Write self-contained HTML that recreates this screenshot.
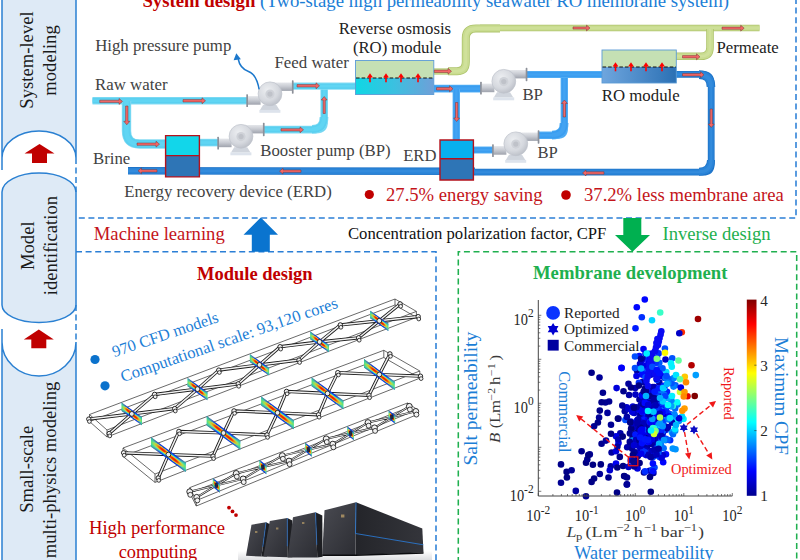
<!DOCTYPE html>
<html><head><meta charset="utf-8"><title>figure</title>
<style>
html,body{margin:0;padding:0;background:#fff;}
body{width:800px;height:560px;overflow:hidden;}
svg{display:block;font-family:"Liberation Serif", "DejaVu Serif", serif;}
</style></head><body>
<svg width="800" height="560" viewBox="0 0 800 560">
<rect width="800" height="560" fill="#fff"/>
<g stroke-width="1.5" stroke-linecap="butt">
<path d="M2,-3 L2,158 A37,27 0 0 1 76,158 L76,-3 Z" fill="#deeaf6" stroke="none"/>
<path d="M2,-3 L2,170 M76,-3 L76,158 M2,158 A37,27 0 0 1 76,158" fill="none" stroke="#2a80d2"/>
<path d="M2,192 A37,19 0 0 1 76,192 L76,305 A37,17.5 0 0 1 2,305 Z" fill="#deeaf6" stroke="#2a80d2"/>
<path d="M2,342 A37,34 0 0 0 76,342 L76,563 L2,563 Z" fill="#deeaf6" stroke="none"/>
<path d="M2,329 L2,563 M76,342 L76,563 M2,342 A37,34 0 0 0 76,342" fill="none" stroke="#2a80d2"/>
<path d="M76,158 L76,192 M76,305 L76,342" fill="none" stroke="#2a80d2" stroke-dasharray="6,3.5"/>
</g>
<polygon points="39.5,144 54.5,153.5 47.0,153.5 47.0,163 32.0,163 32.0,153.5 24.5,153.5" fill="#c00000"/>
<polygon points="38.8,329.5 53.8,339.5 46.3,339.5 46.3,348.3 31.299999999999997,348.3 31.299999999999997,339.5 23.799999999999997,339.5" fill="#c00000"/>
<text transform="translate(32.5,60) rotate(-90)" font-size="18.65" fill="#1a1a1a" text-anchor="middle">System-level</text>
<text transform="translate(56,60.5) rotate(-90)" font-size="18.65" fill="#1a1a1a" text-anchor="middle">modeling</text>
<text transform="translate(34,245.7) rotate(-90)" font-size="18.65" fill="#1a1a1a" text-anchor="middle">Model</text>
<text transform="translate(56.7,245.6) rotate(-90)" font-size="18.65" fill="#1a1a1a" text-anchor="middle">identification</text>
<text transform="translate(33,469.3) rotate(-90)" font-size="18.65" fill="#1a1a1a" text-anchor="middle">Small-scale</text>
<text transform="translate(56,470) rotate(-90)" font-size="18.65" fill="#1a1a1a" text-anchor="middle">multi-physics modeling</text>
<g fill="none" stroke-width="1.55" stroke-dasharray="6,3.6">
<path d="M796,-2 L796,218 L76,218" stroke="#2b7fd6"/>
<path d="M76,251.8 L436,251.8 L436,563" stroke="#2b7fd6"/>
<path d="M458.3,563 L458.3,251.8 L796.7,251.8 L796.7,563" stroke="#1fb04f"/>
</g>
<polygon points="260.8,217.6 278,234.7 269.8,234.7 269.8,251.8 251.8,251.8 251.8,234.7 243.5,234.7" fill="#0a74cf"/>
<polygon points="623.3,218 641.3,218 641.3,235 650,235 632.5,251.8 615,235 623.3,235" fill="#00b050"/>
<text x="93.8" y="240" font-size="18.65" fill="#c4141a" font-weight="normal" text-anchor="start" >Machine learning</text>
<text x="348" y="239.3" font-size="16.66" fill="#111" font-weight="normal" text-anchor="start" >Concentration polarization factor, CPF</text>
<text x="662.5" y="239.5" font-size="18.65" fill="#1fb04f" font-weight="normal" text-anchor="start" >Inverse design</text>
<text x="197" y="279.5" font-size="18.5" fill="#c00000" font-weight="bold" text-anchor="start" >Module design</text>
<text x="533" y="278.8" font-size="18.68" fill="#1fb04f" font-weight="bold" text-anchor="start" >Membrane development</text>
<defs>
<linearGradient id="gOut" x1="0" y1="0" x2="0" y2="1"><stop offset="0" stop-color="#e4e6ea"/><stop offset="0.45" stop-color="#c9ccd3"/><stop offset="1" stop-color="#9fa3ad"/></linearGradient>
<radialGradient id="gVol" cx="0.4" cy="0.35" r="0.75"><stop offset="0" stop-color="#eceef1"/><stop offset="0.6" stop-color="#d5d8de"/><stop offset="1" stop-color="#b4b8c1"/></radialGradient>
<linearGradient id="gRO1" x1="0" y1="0" x2="1" y2="0"><stop offset="0" stop-color="#0fd7e4"/><stop offset="0.5" stop-color="#3cc0e0"/><stop offset="1" stop-color="#6f9fd8"/></linearGradient>
<linearGradient id="gRO2" x1="0" y1="0" x2="1" y2="0"><stop offset="0" stop-color="#6fa6de"/><stop offset="1" stop-color="#2b70b4"/></linearGradient>
</defs>
<path d="M676,74.4 L702,74.4 Q711.2,74.4 711.2,84 L711.2,164 Q711.2,172.2 703,172.2 L470,172.2" fill="none" stroke="#1f74c8" stroke-width="6.8" stroke-linejoin="round"/>
<path d="M676,74.4 L702,74.4 Q711.2,74.4 711.2,84 L711.2,164 Q711.2,172.2 703,172.2 L470,172.2" fill="none" stroke="#2a84d8" stroke-width="5.199999999999999" stroke-linejoin="round"/>
<path d="M676,74.4 L702,74.4 Q711.2,74.4 711.2,84 L711.2,164 Q711.2,172.2 703,172.2 L470,172.2" fill="none" stroke="#3a92e0" stroke-width="1.7999999999999998" stroke-linejoin="round" opacity="0.55"/>
<path d="M699,74.6 Q711,74.6 711,87" fill="none" stroke="#1f74c8" stroke-width="8.6" stroke-linejoin="round"/>
<path d="M699,74.6 Q711,74.6 711,87" fill="none" stroke="#2a84d8" stroke-width="7.0" stroke-linejoin="round"/>
<path d="M699,74.6 Q711,74.6 711,87" fill="none" stroke="#3a92e0" stroke-width="3.5999999999999996" stroke-linejoin="round" opacity="0.55"/>
<path d="M711,160 Q711,171.8 699,171.8" fill="none" stroke="#1f74c8" stroke-width="8.0" stroke-linejoin="round"/>
<path d="M711,160 Q711,171.8 699,171.8" fill="none" stroke="#2a84d8" stroke-width="6.4" stroke-linejoin="round"/>
<path d="M711,160 Q711,171.8 699,171.8" fill="none" stroke="#3a92e0" stroke-width="3.0" stroke-linejoin="round" opacity="0.55"/>
<path d="M475,171.3 L128,170.8" fill="none" stroke="#1f74c8" stroke-width="7.4" stroke-linejoin="round"/>
<path d="M475,171.3 L128,170.8" fill="none" stroke="#2a84d8" stroke-width="5.800000000000001" stroke-linejoin="round"/>
<path d="M475,171.3 L128,170.8" fill="none" stroke="#3a92e0" stroke-width="2.4000000000000004" stroke-linejoin="round" opacity="0.55"/>
<path d="M434,88.6 L481,88.6" fill="none" stroke="#58b2f6" stroke-width="7.8" stroke-linejoin="round"/>
<path d="M434,88.6 L481,88.6" fill="none" stroke="#3a9df0" stroke-width="6.199999999999999" stroke-linejoin="round"/>
<path d="M434,88.6 L481,88.6" fill="none" stroke="#48a8f4" stroke-width="2.8" stroke-linejoin="round" opacity="0.55"/>
<path d="M456.3,89 L456.3,141" fill="none" stroke="#58b2f6" stroke-width="7.4" stroke-linejoin="round"/>
<path d="M456.3,89 L456.3,141" fill="none" stroke="#3a9df0" stroke-width="5.800000000000001" stroke-linejoin="round"/>
<path d="M456.3,89 L456.3,141" fill="none" stroke="#48a8f4" stroke-width="2.4000000000000004" stroke-linejoin="round" opacity="0.55"/>
<path d="M473,150 L493,150" fill="none" stroke="#58b2f6" stroke-width="7" stroke-linejoin="round"/>
<path d="M473,150 L493,150" fill="none" stroke="#3a9df0" stroke-width="5.4" stroke-linejoin="round"/>
<path d="M473,150 L493,150" fill="none" stroke="#48a8f4" stroke-width="2" stroke-linejoin="round" opacity="0.55"/>
<path d="M538,135.3 L557,135.3 Q564.3,135.3 564.3,128 L564.3,76" fill="none" stroke="#58b2f6" stroke-width="7.4" stroke-linejoin="round"/>
<path d="M538,135.3 L557,135.3 Q564.3,135.3 564.3,128 L564.3,76" fill="none" stroke="#3a9df0" stroke-width="5.800000000000001" stroke-linejoin="round"/>
<path d="M538,135.3 L557,135.3 Q564.3,135.3 564.3,128 L564.3,76" fill="none" stroke="#48a8f4" stroke-width="2.4000000000000004" stroke-linejoin="round" opacity="0.55"/>
<path d="M552,135.1 Q564.1,135.1 564.1,123" fill="none" stroke="#58b2f6" stroke-width="8.8" stroke-linejoin="round"/>
<path d="M552,135.1 Q564.1,135.1 564.1,123" fill="none" stroke="#3a9df0" stroke-width="7.200000000000001" stroke-linejoin="round"/>
<path d="M552,135.1 Q564.1,135.1 564.1,123" fill="none" stroke="#48a8f4" stroke-width="3.8000000000000007" stroke-linejoin="round" opacity="0.55"/>
<path d="M527,74.5 L603,74.5" fill="none" stroke="#58b2f6" stroke-width="7" stroke-linejoin="round"/>
<path d="M527,74.5 L603,74.5" fill="none" stroke="#3a9df0" stroke-width="5.4" stroke-linejoin="round"/>
<path d="M527,74.5 L603,74.5" fill="none" stroke="#48a8f4" stroke-width="2" stroke-linejoin="round" opacity="0.55"/>
<path d="M92.5,100.7 L247,100.7" fill="none" stroke="#86dcf4" stroke-width="7.4" stroke-linejoin="round"/>
<path d="M92.5,100.7 L247,100.7" fill="none" stroke="#5ad0f0" stroke-width="5.800000000000001" stroke-linejoin="round"/>
<path d="M92.5,100.7 L247,100.7" fill="none" stroke="#66d8f6" stroke-width="2.4000000000000004" stroke-linejoin="round" opacity="0.55"/>
<path d="M126.5,101 L126.5,131 Q126.5,144 139.5,144 L166,144" fill="none" stroke="#86dcf4" stroke-width="9.4" stroke-linejoin="round"/>
<path d="M126.5,101 L126.5,131 Q126.5,144 139.5,144 L166,144" fill="none" stroke="#5ad0f0" stroke-width="7.800000000000001" stroke-linejoin="round"/>
<path d="M126.5,101 L126.5,131 Q126.5,144 139.5,144 L166,144" fill="none" stroke="#66d8f6" stroke-width="4.4" stroke-linejoin="round" opacity="0.55"/>
<path d="M199,142.6 L220,142.6" fill="none" stroke="#86dcf4" stroke-width="7.6" stroke-linejoin="round"/>
<path d="M199,142.6 L220,142.6" fill="none" stroke="#5ad0f0" stroke-width="6.0" stroke-linejoin="round"/>
<path d="M199,142.6 L220,142.6" fill="none" stroke="#66d8f6" stroke-width="2.5999999999999996" stroke-linejoin="round" opacity="0.55"/>
<path d="M264,129.6 L316,129.6 Q324.2,129.6 324.2,121.5 L324.2,87" fill="none" stroke="#86dcf4" stroke-width="7.6" stroke-linejoin="round"/>
<path d="M264,129.6 L316,129.6 Q324.2,129.6 324.2,121.5 L324.2,87" fill="none" stroke="#5ad0f0" stroke-width="6.0" stroke-linejoin="round"/>
<path d="M264,129.6 L316,129.6 Q324.2,129.6 324.2,121.5 L324.2,87" fill="none" stroke="#66d8f6" stroke-width="2.5999999999999996" stroke-linejoin="round" opacity="0.55"/>
<path d="M312,129.4 Q324,129.4 324,117" fill="none" stroke="#86dcf4" stroke-width="8.8" stroke-linejoin="round"/>
<path d="M312,129.4 Q324,129.4 324,117" fill="none" stroke="#5ad0f0" stroke-width="7.200000000000001" stroke-linejoin="round"/>
<path d="M312,129.4 Q324,129.4 324,117" fill="none" stroke="#66d8f6" stroke-width="3.8000000000000007" stroke-linejoin="round" opacity="0.55"/>
<path d="M293,86.2 L356,86.2" fill="none" stroke="#86dcf4" stroke-width="7.2" stroke-linejoin="round"/>
<path d="M293,86.2 L356,86.2" fill="none" stroke="#5ad0f0" stroke-width="5.6" stroke-linejoin="round"/>
<path d="M293,86.2 L356,86.2" fill="none" stroke="#66d8f6" stroke-width="2.2" stroke-linejoin="round" opacity="0.55"/>
<path d="M480,28 L759.5,28" fill="none" stroke="#aec46c" stroke-width="6.4" stroke-linejoin="round"/>
<path d="M480,28 L759.5,28" fill="none" stroke="#c9dc90" stroke-width="4.800000000000001" stroke-linejoin="round"/>
<path d="M480,28 L759.5,28" fill="none" stroke="#d6e6a4" stroke-width="1.4000000000000004" stroke-linejoin="round" opacity="0.55"/>
<path d="M434,71.5 L452,71.5" fill="none" stroke="#aec46c" stroke-width="6.2" stroke-linejoin="round"/>
<path d="M434,71.5 L452,71.5" fill="none" stroke="#c9dc90" stroke-width="4.6" stroke-linejoin="round"/>
<path d="M434,71.5 L452,71.5" fill="none" stroke="#d6e6a4" stroke-width="1.2000000000000002" stroke-linejoin="round" opacity="0.55"/>
<path d="M448,71.2 L457,71.2 Q465.8,71.2 465.8,62 L465.8,38 Q465.8,28.4 476,28.4 L500,28.4" fill="none" stroke="#aec46c" stroke-width="8.0" stroke-linejoin="round"/>
<path d="M448,71.2 L457,71.2 Q465.8,71.2 465.8,62 L465.8,38 Q465.8,28.4 476,28.4 L500,28.4" fill="none" stroke="#c9dc90" stroke-width="6.4" stroke-linejoin="round"/>
<path d="M448,71.2 L457,71.2 Q465.8,71.2 465.8,62 L465.8,38 Q465.8,28.4 476,28.4 L500,28.4" fill="none" stroke="#d6e6a4" stroke-width="3.0" stroke-linejoin="round" opacity="0.55"/>
<path d="M676,56.3 L701,56.3 Q710,56.3 710,47.5 L710,29" fill="none" stroke="#aec46c" stroke-width="7.6" stroke-linejoin="round"/>
<path d="M676,56.3 L701,56.3 Q710,56.3 710,47.5 L710,29" fill="none" stroke="#c9dc90" stroke-width="6.0" stroke-linejoin="round"/>
<path d="M676,56.3 L701,56.3 Q710,56.3 710,47.5 L710,29" fill="none" stroke="#d6e6a4" stroke-width="2.5999999999999996" stroke-linejoin="round" opacity="0.55"/>
<rect x="355.5" y="60.5" width="78.3" height="17.5" fill="#c5e0b4"/>
<rect x="355.5" y="78" width="78.3" height="16.5" fill="url(#gRO1)"/>
<rect x="355.5" y="60.5" width="78.3" height="34" fill="none" stroke="#5b9bd5" stroke-width="0.9"/>
<path d="M356,78 L433.5,78" stroke="#111" stroke-width="1.1" stroke-dasharray="3.6,2"/>
<rect x="602" y="50" width="74.3" height="17" fill="#c5e0b4"/>
<rect x="602" y="67" width="74.3" height="16" fill="url(#gRO2)"/>
<rect x="602" y="50" width="74.3" height="33" fill="none" stroke="#5b9bd5" stroke-width="0.9"/>
<path d="M602.5,67 L676,67" stroke="#111" stroke-width="1.1" stroke-dasharray="3.6,2"/>
<path d="M370,82.3 L370,75.7" stroke="#ff0000" stroke-width="1.6"/><polygon points="370,73.2 372.9,77.4 367.1,77.4" fill="#ff0000"/>
<path d="M386,82.3 L386,75.7" stroke="#ff0000" stroke-width="1.6"/><polygon points="386,73.2 388.9,77.4 383.1,77.4" fill="#ff0000"/>
<path d="M401,82.3 L401,75.7" stroke="#ff0000" stroke-width="1.6"/><polygon points="401,73.2 403.9,77.4 398.1,77.4" fill="#ff0000"/>
<path d="M418,82.3 L418,75.7" stroke="#ff0000" stroke-width="1.6"/><polygon points="418,73.2 420.9,77.4 415.1,77.4" fill="#ff0000"/>
<path d="M615.5,71.3 L615.5,64.7" stroke="#ff0000" stroke-width="1.6"/><polygon points="615.5,62.2 618.4,66.4 612.6,66.4" fill="#ff0000"/>
<path d="M631,71.3 L631,64.7" stroke="#ff0000" stroke-width="1.6"/><polygon points="631,62.2 633.9,66.4 628.1,66.4" fill="#ff0000"/>
<path d="M646,71.3 L646,64.7" stroke="#ff0000" stroke-width="1.6"/><polygon points="646,62.2 648.9,66.4 643.1,66.4" fill="#ff0000"/>
<path d="M662,71.3 L662,64.7" stroke="#ff0000" stroke-width="1.6"/><polygon points="662,62.2 664.9,66.4 659.1,66.4" fill="#ff0000"/>
<rect x="165.6" y="135.6" width="33.8" height="20" fill="#12d6ea"/><rect x="165.6" y="155.6" width="33.8" height="21.3" fill="#2e75b6"/>
<path d="M165.6,135.6 H199.4 V176.9 H165.6 Z M165.6,155.6 H199.4" fill="none" stroke="#b4121c" stroke-width="1.4"/>
<rect x="440" y="140" width="33.4" height="18.8" fill="#08b0ee"/><rect x="440" y="158.8" width="33.4" height="21.2" fill="#2e75b6"/>
<path d="M440,140 H473.4 V180 H440 Z M440,158.8 H473.4" fill="none" stroke="#b4121c" stroke-width="1.4"/>
<g>
<polygon points="263.2,104.7 276.2,104.7 279.5,110.10000000000001 260,110.10000000000001" fill="#d0d5dd"/>
<rect x="259.4" y="109.9" width="21" height="2.9" fill="#dde3ec"/>
<rect x="270" y="82.49999999999999" width="22.3" height="8.4" fill="url(#gOut)"/>
<rect x="291.9" y="80.3" width="1.7" height="13.4" rx="0.6" fill="#8c9099"/>
<rect x="247.60000000000002" y="96.1" width="13" height="8.6" fill="url(#gOut)"/>
<rect x="246.3" y="94.2" width="1.7" height="12.8" rx="0.6" fill="#8c9099"/>
<circle cx="270" cy="93.8" r="11.9" fill="url(#gVol)" stroke="#bfc3cb" stroke-width="0.7"/>
<circle cx="270" cy="94.1" r="4.6" fill="#cfd2d8"/>
<circle cx="270" cy="94.1" r="2.6" fill="#bfc2c9"/>
</g>
<g>
<polygon points="234.2,147.20000000000002 247.2,147.20000000000002 250.5,152.60000000000002 231,152.60000000000002" fill="#d0d5dd"/>
<rect x="230.4" y="152.4" width="21" height="2.9" fill="#dde3ec"/>
<rect x="241" y="125.0" width="22.3" height="8.4" fill="url(#gOut)"/>
<rect x="262.9" y="122.80000000000001" width="1.7" height="13.4" rx="0.6" fill="#8c9099"/>
<rect x="218.6" y="138.60000000000002" width="13" height="8.6" fill="url(#gOut)"/>
<rect x="217.29999999999998" y="136.70000000000002" width="1.7" height="12.8" rx="0.6" fill="#8c9099"/>
<circle cx="241" cy="136.3" r="11.9" fill="url(#gVol)" stroke="#bfc3cb" stroke-width="0.7"/>
<circle cx="241" cy="136.60000000000002" r="4.6" fill="#cfd2d8"/>
<circle cx="241" cy="136.60000000000002" r="2.6" fill="#bfc2c9"/>
</g>
<g>
<polygon points="497.0,92.2 510.0,92.2 513.3,97.60000000000001 493.8,97.60000000000001" fill="#d0d5dd"/>
<rect x="493.2" y="97.4" width="21" height="2.9" fill="#dde3ec"/>
<rect x="503.8" y="69.99999999999999" width="22.3" height="8.4" fill="url(#gOut)"/>
<rect x="525.7" y="67.8" width="1.7" height="13.4" rx="0.6" fill="#8c9099"/>
<rect x="481.40000000000003" y="83.6" width="13" height="8.6" fill="url(#gOut)"/>
<rect x="480.1" y="81.7" width="1.7" height="12.8" rx="0.6" fill="#8c9099"/>
<circle cx="503.8" cy="81.3" r="11.9" fill="url(#gVol)" stroke="#bfc3cb" stroke-width="0.7"/>
<circle cx="503.8" cy="81.6" r="4.6" fill="#cfd2d8"/>
<circle cx="503.8" cy="81.6" r="2.6" fill="#bfc2c9"/>
</g>
<g>
<polygon points="508.99999999999994,154.70000000000002 522.0,154.70000000000002 525.3,160.10000000000002 505.79999999999995,160.10000000000002" fill="#d0d5dd"/>
<rect x="505.19999999999993" y="159.9" width="21" height="2.9" fill="#dde3ec"/>
<rect x="515.8" y="132.5" width="22.3" height="8.4" fill="url(#gOut)"/>
<rect x="537.6999999999999" y="130.3" width="1.7" height="13.4" rx="0.6" fill="#8c9099"/>
<rect x="493.4" y="146.10000000000002" width="13" height="8.6" fill="url(#gOut)"/>
<rect x="492.09999999999997" y="144.20000000000002" width="1.7" height="12.8" rx="0.6" fill="#8c9099"/>
<circle cx="515.8" cy="143.8" r="11.9" fill="url(#gVol)" stroke="#bfc3cb" stroke-width="0.7"/>
<circle cx="515.8" cy="144.10000000000002" r="4.6" fill="#cfd2d8"/>
<circle cx="515.8" cy="144.10000000000002" r="2.6" fill="#bfc2c9"/>
</g>
<path d="M259.1,89.3 C257.5,80 254,73.5 248.5,71.5 C243,69.5 239.5,66 238.2,59" fill="none" stroke="#1c78cc" stroke-width="1.5"/>
<polygon points="236.3,53.2 240.9,59.2 233.6,60.2" fill="#1c78cc"/>
<polygon points="99.7,102.6 119.0,102.6 119.0,104.4 122.5,101.4 119.0,98.5 119.0,100.2 99.7,100.2" fill="#f26666" stroke="#7a3232" stroke-width="0.5" stroke-linejoin="miter"/>
<polygon points="183.0,102.0 202.0,102.0 202.0,103.8 205.5,100.8 202.0,97.8 202.0,99.6 183.0,99.6" fill="#f26666" stroke="#7a3232" stroke-width="0.5" stroke-linejoin="miter"/>
<polygon points="125.6,106.0 125.6,121.3 123.8,121.3 126.8,124.8 129.8,121.3 128.0,121.3 128.0,106.0" fill="#f26666" stroke="#7a3232" stroke-width="0.5" stroke-linejoin="miter"/>
<polygon points="137.0,145.3 156.0,145.3 156.0,147.1 159.5,144.2 156.0,141.2 156.0,143.0 137.0,143.0" fill="#f26666" stroke="#7a3232" stroke-width="0.5" stroke-linejoin="miter"/>
<polygon points="297.0,87.0 316.0,87.0 316.0,88.8 319.5,85.8 316.0,82.8 316.0,84.6 297.0,84.6" fill="#f26666" stroke="#7a3232" stroke-width="0.5" stroke-linejoin="miter"/>
<polygon points="325.3,113.5 325.3,100.0 327.1,100.0 324.2,96.5 321.2,100.0 323.1,100.0 323.1,113.5" fill="#f26666" stroke="#7a3232" stroke-width="0.5" stroke-linejoin="miter"/>
<polygon points="281.0,131.0 300.0,131.0 300.0,132.8 303.5,129.8 300.0,126.9 300.0,128.7 281.0,128.7" fill="#f26666" stroke="#7a3232" stroke-width="0.5" stroke-linejoin="miter"/>
<polygon points="301.0,170.0 283.0,170.0 283.0,168.2 279.5,171.2 283.0,174.1 283.0,172.3 301.0,172.3" fill="#f26666" stroke="#7a3232" stroke-width="0.5" stroke-linejoin="miter"/>
<polygon points="157.0,169.7 141.5,169.7 141.5,167.9 138.0,170.8 141.5,173.8 141.5,172.0 157.0,172.0" fill="#f26666" stroke="#7a3232" stroke-width="0.5" stroke-linejoin="miter"/>
<polygon points="434.3,72.5 448.0,72.5 448.0,74.2 451.5,71.3 448.0,68.3 448.0,70.1 434.3,70.1" fill="#f26666" stroke="#7a3232" stroke-width="0.5" stroke-linejoin="miter"/>
<polygon points="436.5,90.0 449.5,90.0 449.5,91.8 453.0,88.8 449.5,85.8 449.5,87.6 436.5,87.6" fill="#f26666" stroke="#7a3232" stroke-width="0.5" stroke-linejoin="miter"/>
<polygon points="455.5,102.5 455.5,118.0 453.7,118.0 456.6,121.5 459.6,118.0 457.8,118.0 457.8,102.5" fill="#f26666" stroke="#7a3232" stroke-width="0.5" stroke-linejoin="miter"/>
<polygon points="565.5,117.0 565.5,103.5 567.4,103.5 564.4,100.0 561.4,103.5 563.2,103.5 563.2,117.0" fill="#f26666" stroke="#7a3232" stroke-width="0.5" stroke-linejoin="miter"/>
<polygon points="573.0,29.1 586.5,29.1 586.5,30.9 590.0,28.0 586.5,25.1 586.5,26.9 573.0,26.9" fill="#f26666" stroke="#7a3232" stroke-width="0.5" stroke-linejoin="miter"/>
<polygon points="722.0,29.3 740.7,29.3 740.7,31.1 744.2,28.2 740.7,25.2 740.7,27.1 722.0,27.1" fill="#f26666" stroke="#7a3232" stroke-width="0.5" stroke-linejoin="miter"/>
<polygon points="682.5,57.9 696.5,57.9 696.5,59.8 700.0,56.8 696.5,53.8 696.5,55.6 682.5,55.6" fill="#f26666" stroke="#7a3232" stroke-width="0.5" stroke-linejoin="miter"/>
<polygon points="682.5,76.0 700.5,76.0 700.5,77.8 704.0,74.8 700.5,71.8 700.5,73.6 682.5,73.6" fill="#f26666" stroke="#7a3232" stroke-width="0.5" stroke-linejoin="miter"/>
<polygon points="710.1,109.0 710.1,124.0 708.3,124.0 711.3,127.5 714.2,124.0 712.4,124.0 712.4,109.0" fill="#f26666" stroke="#7a3232" stroke-width="0.5" stroke-linejoin="miter"/>
<polygon points="604.0,171.8 586.0,171.8 586.0,170.1 582.5,173.0 586.0,175.9 586.0,174.2 604.0,174.2" fill="#f26666" stroke="#7a3232" stroke-width="0.5" stroke-linejoin="miter"/>
<text x="95.2" y="51.4" font-size="16.8" fill="#424242" font-weight="normal" text-anchor="start" >High pressure pump</text>
<text x="95" y="89.6" font-size="16.85" fill="#424242" font-weight="normal" text-anchor="start" >Raw water</text>
<text x="274.5" y="67.5" font-size="16.85" fill="#424242" font-weight="normal" text-anchor="start" >Feed water</text>
<text x="338.8" y="33.8" font-size="16.8" fill="#222" font-weight="normal" text-anchor="start" >Reverse osmosis</text>
<text x="352.9" y="52.6" font-size="16.7" fill="#222" font-weight="normal" text-anchor="start" >(RO) module</text>
<text x="93" y="163.8" font-size="16.8" fill="#424242" font-weight="normal" text-anchor="start" >Brine</text>
<text x="260.3" y="156.3" font-size="16.75" fill="#424242" font-weight="normal" text-anchor="start" >Booster pump (BP)</text>
<text x="124.2" y="196.8" font-size="16.75" fill="#424242" font-weight="normal" text-anchor="start" >Energy recovery device (ERD)</text>
<text x="403.2" y="161" font-size="16.6" fill="#424242" font-weight="normal" text-anchor="start" >ERD</text>
<text x="522.4" y="100" font-size="16.8" fill="#424242" font-weight="normal" text-anchor="start" >BP</text>
<text x="537.4" y="158.3" font-size="16.6" fill="#424242" font-weight="normal" text-anchor="start" >BP</text>
<text x="601.8" y="100.5" font-size="16.8" fill="#222" font-weight="normal" text-anchor="start" >RO module</text>
<text x="716.4" y="52.5" font-size="16.8" fill="#222" font-weight="normal" text-anchor="start" >Permeate</text>
<circle cx="369.3" cy="194.5" r="4.6" fill="#c00000"/><circle cx="566" cy="195" r="4.8" fill="#c00000"/>
<text x="386" y="201" font-size="18.65" fill="#c4141a" font-weight="normal" text-anchor="start" >27.5% energy saving</text>
<text x="584" y="201" font-size="18.65" fill="#c4141a" font-weight="normal" text-anchor="start" >37.2% less membrane area</text>
<defs>
<linearGradient id="gSlV" x1="0" y1="0" x2="0" y2="1"><stop offset="0" stop-color="#0a20d0"/><stop offset="0.13" stop-color="#1048e0"/><stop offset="0.26" stop-color="#20c8e8"/><stop offset="0.4" stop-color="#a0e860"/><stop offset="0.5" stop-color="#e8e428"/><stop offset="0.6" stop-color="#a0e860"/><stop offset="0.76" stop-color="#20c8e8"/><stop offset="0.89" stop-color="#1048e0"/><stop offset="1" stop-color="#0a20d0"/></linearGradient>
<linearGradient id="gSlH" x1="0" y1="0" x2="1" y2="0"><stop offset="0" stop-color="#38d890" stop-opacity="0.85"/><stop offset="0.14" stop-color="#90e060" stop-opacity="0.4"/><stop offset="0.28" stop-color="#f0d020" stop-opacity="0"/><stop offset="0.75" stop-color="#f0d020" stop-opacity="0"/><stop offset="0.9" stop-color="#70e080" stop-opacity="0.45"/><stop offset="1" stop-color="#38d890" stop-opacity="0.85"/></linearGradient>
<radialGradient id="gLobe"><stop offset="0" stop-color="#e81408"/><stop offset="0.35" stop-color="#f03c08"/><stop offset="0.62" stop-color="#f8a010" stop-opacity="0.95"/><stop offset="0.85" stop-color="#f4e020" stop-opacity="0.7"/><stop offset="1" stop-color="#e8e428" stop-opacity="0"/></radialGradient>
</defs>
<circle cx="95" cy="359.5" r="4.6" fill="#0b72cc"/><circle cx="105" cy="385.8" r="4.6" fill="#0b72cc"/>
<text transform="translate(114.2,357.3) rotate(-18.7)" font-size="16.3" fill="#1c7ed6">970 CFD models</text>
<text transform="translate(122.8,382.2) rotate(-19.1)" font-size="16.55" fill="#1c7ed6">Computational scale: 93,120 cores</text>
<g fill="none" stroke="#2a2a2a" stroke-width="0.7" stroke-linejoin="round">
<path d="M89.5,414.5 L395.0,299.0 L416.4,311.4 L107.0,430.0 Z"/>
<path d="M89.5,414.5 L89.5,421.5 L107.0,437.0 L107.0,430.0 M107.0,437.0 L416.4,317.4 L416.4,311.4 M89.5,421.5 L395.0,305.0 L395.0,299.0 M395.0,305.0 L416.4,317.4"/>
</g>
<path d="M88.8,419.1 L131.8,413.9 M109.2,433.5 L131.8,413.9 M131.8,413.9 L154.6,394.4 M131.8,413.9 L174.7,408.6 M154.6,394.4 L197.5,389.1 M174.7,408.6 L197.5,389.1 M197.5,389.1 L218.8,370.1 M197.5,389.1 L238.2,383.9 M218.8,370.1 L259.5,364.9 M238.2,383.9 L259.5,364.9 M259.5,364.9 L280.1,346.7 M259.5,364.9 L299.0,360.1 M280.1,346.7 L319.6,341.9 M299.0,360.1 L319.6,341.9 M319.6,341.9 L340.3,324.9 M319.6,341.9 L358.6,337.8 M340.3,324.9 L379.3,320.8 M358.6,337.8 L379.3,320.8 M379.3,320.8 L400.1,303.9 M379.3,320.8 L418.2,316.6" fill="none" stroke="#1c1c1c" stroke-width="3.2" stroke-linecap="round"/>
<path d="M88.8,419.1 L131.8,413.9 M109.2,433.5 L131.8,413.9 M131.8,413.9 L154.6,394.4 M131.8,413.9 L174.7,408.6 M154.6,394.4 L197.5,389.1 M174.7,408.6 L197.5,389.1 M197.5,389.1 L218.8,370.1 M197.5,389.1 L238.2,383.9 M218.8,370.1 L259.5,364.9 M238.2,383.9 L259.5,364.9 M259.5,364.9 L280.1,346.7 M259.5,364.9 L299.0,360.1 M280.1,346.7 L319.6,341.9 M299.0,360.1 L319.6,341.9 M319.6,341.9 L340.3,324.9 M319.6,341.9 L358.6,337.8 M340.3,324.9 L379.3,320.8 M358.6,337.8 L379.3,320.8 M379.3,320.8 L400.1,303.9 M379.3,320.8 L418.2,316.6" fill="none" stroke="#f0f0f0" stroke-width="1.47" stroke-linecap="round"/>
<circle cx="88.8" cy="419.1" r="2.2" fill="#f2f2f2" stroke="#141414" stroke-width="0.9"/>
<circle cx="89.4" cy="421.5" r="1.87" fill="#f2f2f2" stroke="#141414" stroke-width="0.8"/>
<circle cx="154.6" cy="394.4" r="2.2" fill="#f2f2f2" stroke="#141414" stroke-width="0.9"/>
<circle cx="155.2" cy="396.8" r="1.87" fill="#f2f2f2" stroke="#141414" stroke-width="0.8"/>
<circle cx="218.8" cy="370.1" r="2.2" fill="#f2f2f2" stroke="#141414" stroke-width="0.9"/>
<circle cx="219.4" cy="372.5" r="1.87" fill="#f2f2f2" stroke="#141414" stroke-width="0.8"/>
<circle cx="280.1" cy="346.7" r="2.2" fill="#f2f2f2" stroke="#141414" stroke-width="0.9"/>
<circle cx="280.7" cy="349.1" r="1.87" fill="#f2f2f2" stroke="#141414" stroke-width="0.8"/>
<circle cx="340.3" cy="324.9" r="2.2" fill="#f2f2f2" stroke="#141414" stroke-width="0.9"/>
<circle cx="340.9" cy="327.3" r="1.87" fill="#f2f2f2" stroke="#141414" stroke-width="0.8"/>
<circle cx="400.1" cy="303.9" r="2.2" fill="#f2f2f2" stroke="#141414" stroke-width="0.9"/>
<circle cx="400.7" cy="306.3" r="1.87" fill="#f2f2f2" stroke="#141414" stroke-width="0.8"/>
<circle cx="109.2" cy="433.5" r="2.2" fill="#f2f2f2" stroke="#141414" stroke-width="0.9"/>
<circle cx="109.8" cy="435.9" r="1.87" fill="#f2f2f2" stroke="#141414" stroke-width="0.8"/>
<circle cx="174.7" cy="408.6" r="2.2" fill="#f2f2f2" stroke="#141414" stroke-width="0.9"/>
<circle cx="175.3" cy="411.0" r="1.87" fill="#f2f2f2" stroke="#141414" stroke-width="0.8"/>
<circle cx="238.2" cy="383.9" r="2.2" fill="#f2f2f2" stroke="#141414" stroke-width="0.9"/>
<circle cx="238.8" cy="386.3" r="1.87" fill="#f2f2f2" stroke="#141414" stroke-width="0.8"/>
<circle cx="299.0" cy="360.1" r="2.2" fill="#f2f2f2" stroke="#141414" stroke-width="0.9"/>
<circle cx="299.6" cy="362.5" r="1.87" fill="#f2f2f2" stroke="#141414" stroke-width="0.8"/>
<circle cx="358.6" cy="337.8" r="2.2" fill="#f2f2f2" stroke="#141414" stroke-width="0.9"/>
<circle cx="359.2" cy="340.2" r="1.87" fill="#f2f2f2" stroke="#141414" stroke-width="0.8"/>
<circle cx="418.2" cy="316.6" r="2.2" fill="#f2f2f2" stroke="#141414" stroke-width="0.9"/>
<circle cx="418.8" cy="319.0" r="1.87" fill="#f2f2f2" stroke="#141414" stroke-width="0.8"/>
<g transform="matrix(20.40 14.40 0 8.40 121.60 402.50)"><rect width="1" height="1" fill="url(#gSlV)"/><ellipse cx="0.33" cy="0.43" rx="0.3" ry="0.3" fill="url(#gLobe)"/><ellipse cx="0.67" cy="0.57" rx="0.3" ry="0.3" fill="url(#gLobe)"/><rect width="1" height="1" fill="url(#gSlH)"/></g>
<circle cx="131.8" cy="413.9" r="2.42" fill="#ececec" stroke="#1c1c1c" stroke-width="0.9"/>
<g transform="matrix(19.79 13.97 0 8.15 187.61 378.04)"><rect width="1" height="1" fill="url(#gSlV)"/><ellipse cx="0.33" cy="0.43" rx="0.3" ry="0.3" fill="url(#gLobe)"/><ellipse cx="0.67" cy="0.57" rx="0.3" ry="0.3" fill="url(#gLobe)"/><rect width="1" height="1" fill="url(#gSlH)"/></g>
<circle cx="197.5" cy="389.1" r="2.42" fill="#ececec" stroke="#1c1c1c" stroke-width="0.9"/>
<g transform="matrix(19.19 13.55 0 7.90 249.90 354.17)"><rect width="1" height="1" fill="url(#gSlV)"/><ellipse cx="0.33" cy="0.43" rx="0.3" ry="0.3" fill="url(#gLobe)"/><ellipse cx="0.67" cy="0.57" rx="0.3" ry="0.3" fill="url(#gLobe)"/><rect width="1" height="1" fill="url(#gSlH)"/></g>
<circle cx="259.5" cy="364.9" r="2.42" fill="#ececec" stroke="#1c1c1c" stroke-width="0.9"/>
<g transform="matrix(18.62 13.14 0 7.67 310.29 331.50)"><rect width="1" height="1" fill="url(#gSlV)"/><ellipse cx="0.33" cy="0.43" rx="0.3" ry="0.3" fill="url(#gLobe)"/><ellipse cx="0.67" cy="0.57" rx="0.3" ry="0.3" fill="url(#gLobe)"/><rect width="1" height="1" fill="url(#gSlH)"/></g>
<circle cx="319.6" cy="341.9" r="2.42" fill="#ececec" stroke="#1c1c1c" stroke-width="0.9"/>
<g transform="matrix(18.06 12.75 0 7.44 370.27 310.71)"><rect width="1" height="1" fill="url(#gSlV)"/><ellipse cx="0.33" cy="0.43" rx="0.3" ry="0.3" fill="url(#gLobe)"/><ellipse cx="0.67" cy="0.57" rx="0.3" ry="0.3" fill="url(#gLobe)"/><rect width="1" height="1" fill="url(#gSlH)"/></g>
<circle cx="379.3" cy="320.8" r="2.42" fill="#ececec" stroke="#1c1c1c" stroke-width="0.9"/>
<g fill="none" stroke="#2a2a2a" stroke-width="0.7" stroke-linejoin="round">
<path d="M123.0,448.0 L383.8,350.3 L419.8,371.0 L155.0,474.0 Z"/>
<path d="M123.0,448.0 L123.0,456.4 L155.0,482.4 L155.0,474.0 M155.0,482.4 L419.8,378.2 L419.8,371.0 M123.0,456.4 L383.8,357.5 L383.8,350.3 M383.8,357.5 L419.8,378.2"/>
</g>
<path d="M123.6,452.8 L168.4,454.6 M158.2,478.0 L168.4,454.6 M168.4,454.6 L178.9,431.4 M168.4,454.6 L213.0,456.2 M178.9,431.4 L223.5,433.0 M213.0,456.2 L223.5,433.0 M223.5,433.0 L234.0,410.9 M223.5,433.0 L267.0,434.9 M234.0,410.9 L277.5,412.8 M267.0,434.9 L277.5,412.8 M277.5,412.8 L286.5,391.4 M277.5,412.8 L318.5,414.8 M286.5,391.4 L327.5,393.4 M318.5,414.8 L327.5,393.4 M327.5,393.4 L337.8,372.6 M327.5,393.4 L369.0,395.3 M337.8,372.6 L379.3,374.5 M369.0,395.3 L379.3,374.5 M379.3,374.5 L389.9,353.9 M379.3,374.5 L420.5,376.2" fill="none" stroke="#1c1c1c" stroke-width="3.2" stroke-linecap="round"/>
<path d="M123.6,452.8 L168.4,454.6 M158.2,478.0 L168.4,454.6 M168.4,454.6 L178.9,431.4 M168.4,454.6 L213.0,456.2 M178.9,431.4 L223.5,433.0 M213.0,456.2 L223.5,433.0 M223.5,433.0 L234.0,410.9 M223.5,433.0 L267.0,434.9 M234.0,410.9 L277.5,412.8 M267.0,434.9 L277.5,412.8 M277.5,412.8 L286.5,391.4 M277.5,412.8 L318.5,414.8 M286.5,391.4 L327.5,393.4 M318.5,414.8 L327.5,393.4 M327.5,393.4 L337.8,372.6 M327.5,393.4 L369.0,395.3 M337.8,372.6 L379.3,374.5 M369.0,395.3 L379.3,374.5 M379.3,374.5 L389.9,353.9 M379.3,374.5 L420.5,376.2" fill="none" stroke="#f0f0f0" stroke-width="1.47" stroke-linecap="round"/>
<circle cx="123.6" cy="452.8" r="2.2" fill="#f2f2f2" stroke="#141414" stroke-width="0.9"/>
<circle cx="124.2" cy="455.2" r="1.87" fill="#f2f2f2" stroke="#141414" stroke-width="0.8"/>
<circle cx="178.9" cy="431.4" r="2.2" fill="#f2f2f2" stroke="#141414" stroke-width="0.9"/>
<circle cx="179.5" cy="433.8" r="1.87" fill="#f2f2f2" stroke="#141414" stroke-width="0.8"/>
<circle cx="234.0" cy="410.9" r="2.2" fill="#f2f2f2" stroke="#141414" stroke-width="0.9"/>
<circle cx="234.6" cy="413.3" r="1.87" fill="#f2f2f2" stroke="#141414" stroke-width="0.8"/>
<circle cx="286.5" cy="391.4" r="2.2" fill="#f2f2f2" stroke="#141414" stroke-width="0.9"/>
<circle cx="287.1" cy="393.8" r="1.87" fill="#f2f2f2" stroke="#141414" stroke-width="0.8"/>
<circle cx="337.8" cy="372.6" r="2.2" fill="#f2f2f2" stroke="#141414" stroke-width="0.9"/>
<circle cx="338.4" cy="375.0" r="1.87" fill="#f2f2f2" stroke="#141414" stroke-width="0.8"/>
<circle cx="389.9" cy="353.9" r="2.2" fill="#f2f2f2" stroke="#141414" stroke-width="0.9"/>
<circle cx="390.5" cy="356.3" r="1.87" fill="#f2f2f2" stroke="#141414" stroke-width="0.8"/>
<circle cx="158.2" cy="478.0" r="2.2" fill="#f2f2f2" stroke="#141414" stroke-width="0.9"/>
<circle cx="158.8" cy="480.4" r="1.87" fill="#f2f2f2" stroke="#141414" stroke-width="0.8"/>
<circle cx="213.0" cy="456.2" r="2.2" fill="#f2f2f2" stroke="#141414" stroke-width="0.9"/>
<circle cx="213.6" cy="458.6" r="1.87" fill="#f2f2f2" stroke="#141414" stroke-width="0.8"/>
<circle cx="267.0" cy="434.9" r="2.2" fill="#f2f2f2" stroke="#141414" stroke-width="0.9"/>
<circle cx="267.6" cy="437.4" r="1.87" fill="#f2f2f2" stroke="#141414" stroke-width="0.8"/>
<circle cx="318.5" cy="414.8" r="2.2" fill="#f2f2f2" stroke="#141414" stroke-width="0.9"/>
<circle cx="319.1" cy="417.2" r="1.87" fill="#f2f2f2" stroke="#141414" stroke-width="0.8"/>
<circle cx="369.0" cy="395.3" r="2.2" fill="#f2f2f2" stroke="#141414" stroke-width="0.9"/>
<circle cx="369.6" cy="397.7" r="1.87" fill="#f2f2f2" stroke="#141414" stroke-width="0.8"/>
<circle cx="420.5" cy="376.2" r="2.2" fill="#f2f2f2" stroke="#141414" stroke-width="0.9"/>
<circle cx="421.1" cy="378.6" r="1.87" fill="#f2f2f2" stroke="#141414" stroke-width="0.8"/>
<g transform="matrix(34.60 25.20 0 9.60 151.10 437.20)"><rect width="1" height="1" fill="url(#gSlV)"/><ellipse cx="0.33" cy="0.43" rx="0.3" ry="0.3" fill="url(#gLobe)"/><ellipse cx="0.67" cy="0.57" rx="0.3" ry="0.3" fill="url(#gLobe)"/><rect width="1" height="1" fill="url(#gSlH)"/></g>
<circle cx="168.4" cy="454.6" r="2.42" fill="#ececec" stroke="#1c1c1c" stroke-width="0.9"/>
<g transform="matrix(33.56 24.44 0 9.31 206.72 416.12)"><rect width="1" height="1" fill="url(#gSlV)"/><ellipse cx="0.33" cy="0.43" rx="0.3" ry="0.3" fill="url(#gLobe)"/><ellipse cx="0.67" cy="0.57" rx="0.3" ry="0.3" fill="url(#gLobe)"/><rect width="1" height="1" fill="url(#gSlH)"/></g>
<circle cx="223.5" cy="433.0" r="2.42" fill="#ececec" stroke="#1c1c1c" stroke-width="0.9"/>
<g transform="matrix(32.56 23.71 0 9.03 261.22 396.43)"><rect width="1" height="1" fill="url(#gSlV)"/><ellipse cx="0.33" cy="0.43" rx="0.3" ry="0.3" fill="url(#gLobe)"/><ellipse cx="0.67" cy="0.57" rx="0.3" ry="0.3" fill="url(#gLobe)"/><rect width="1" height="1" fill="url(#gSlH)"/></g>
<circle cx="277.5" cy="412.8" r="2.42" fill="#ececec" stroke="#1c1c1c" stroke-width="0.9"/>
<g transform="matrix(31.58 23.00 0 8.76 311.71 377.52)"><rect width="1" height="1" fill="url(#gSlV)"/><ellipse cx="0.33" cy="0.43" rx="0.3" ry="0.3" fill="url(#gLobe)"/><ellipse cx="0.67" cy="0.57" rx="0.3" ry="0.3" fill="url(#gLobe)"/><rect width="1" height="1" fill="url(#gSlH)"/></g>
<circle cx="327.5" cy="393.4" r="2.42" fill="#ececec" stroke="#1c1c1c" stroke-width="0.9"/>
<g transform="matrix(30.63 22.31 0 8.50 363.98 359.10)"><rect width="1" height="1" fill="url(#gSlV)"/><ellipse cx="0.33" cy="0.43" rx="0.3" ry="0.3" fill="url(#gLobe)"/><ellipse cx="0.67" cy="0.57" rx="0.3" ry="0.3" fill="url(#gLobe)"/><rect width="1" height="1" fill="url(#gSlH)"/></g>
<circle cx="379.3" cy="374.5" r="2.42" fill="#ececec" stroke="#1c1c1c" stroke-width="0.9"/>
<g fill="none" stroke="#2a2a2a" stroke-width="0.7" stroke-linejoin="round">
<path d="M189.8,487.6 L407.5,403.0 L417.3,409.6 L196.3,500.6 Z"/>
<path d="M189.8,487.6 L189.8,493.0 L196.3,506.0 L196.3,500.6 M196.3,506.0 L417.3,414.5 L417.3,409.6 M189.8,493.0 L407.5,407.9 L407.5,403.0 M407.5,407.9 L417.3,414.5"/>
</g>
<path d="M189.7,491.7 L216.4,485.3 M196.7,497.3 L216.4,485.3 M216.4,485.3 L236.2,473.4 M216.4,485.3 L243.1,478.9 M236.2,473.4 L262.9,467.0 M243.1,478.9 L262.9,467.0 M262.9,467.0 L282.3,455.6 M262.9,467.0 L289.0,461.0 M282.3,455.6 L308.4,449.6 M289.0,461.0 L308.4,449.6 M308.4,449.6 L326.2,438.8 M308.4,449.6 L332.8,444.1 M326.2,438.8 L350.6,433.3 M332.8,444.1 L350.6,433.3 M350.6,433.3 L368.0,422.5 M350.6,433.3 L374.5,427.8 M368.0,422.5 L391.9,417.0 M374.5,427.8 L391.9,417.0 M391.9,417.0 L409.3,406.3 M391.9,417.0 L415.8,411.4" fill="none" stroke="#1c1c1c" stroke-width="2.0" stroke-linecap="round"/>
<path d="M189.7,491.7 L216.4,485.3 M196.7,497.3 L216.4,485.3 M216.4,485.3 L236.2,473.4 M216.4,485.3 L243.1,478.9 M236.2,473.4 L262.9,467.0 M243.1,478.9 L262.9,467.0 M262.9,467.0 L282.3,455.6 M262.9,467.0 L289.0,461.0 M282.3,455.6 L308.4,449.6 M289.0,461.0 L308.4,449.6 M308.4,449.6 L326.2,438.8 M308.4,449.6 L332.8,444.1 M326.2,438.8 L350.6,433.3 M332.8,444.1 L350.6,433.3 M350.6,433.3 L368.0,422.5 M350.6,433.3 L374.5,427.8 M368.0,422.5 L391.9,417.0 M374.5,427.8 L391.9,417.0 M391.9,417.0 L409.3,406.3 M391.9,417.0 L415.8,411.4" fill="none" stroke="#f0f0f0" stroke-width="0.92" stroke-linecap="round"/>
<circle cx="189.7" cy="491.7" r="2.9" fill="#f2f2f2" stroke="#141414" stroke-width="0.9"/>
<circle cx="190.3" cy="494.8" r="2.46" fill="#f2f2f2" stroke="#141414" stroke-width="0.8"/>
<circle cx="236.2" cy="473.4" r="2.9" fill="#f2f2f2" stroke="#141414" stroke-width="0.9"/>
<circle cx="236.8" cy="476.6" r="2.46" fill="#f2f2f2" stroke="#141414" stroke-width="0.8"/>
<circle cx="282.3" cy="455.6" r="2.9" fill="#f2f2f2" stroke="#141414" stroke-width="0.9"/>
<circle cx="282.9" cy="458.8" r="2.46" fill="#f2f2f2" stroke="#141414" stroke-width="0.8"/>
<circle cx="326.2" cy="438.8" r="2.9" fill="#f2f2f2" stroke="#141414" stroke-width="0.9"/>
<circle cx="326.8" cy="442.0" r="2.46" fill="#f2f2f2" stroke="#141414" stroke-width="0.8"/>
<circle cx="368.0" cy="422.5" r="2.9" fill="#f2f2f2" stroke="#141414" stroke-width="0.9"/>
<circle cx="368.6" cy="425.7" r="2.46" fill="#f2f2f2" stroke="#141414" stroke-width="0.8"/>
<circle cx="409.3" cy="406.3" r="2.9" fill="#f2f2f2" stroke="#141414" stroke-width="0.9"/>
<circle cx="409.9" cy="409.5" r="2.46" fill="#f2f2f2" stroke="#141414" stroke-width="0.8"/>
<circle cx="196.7" cy="497.3" r="2.9" fill="#f2f2f2" stroke="#141414" stroke-width="0.9"/>
<circle cx="197.3" cy="500.4" r="2.46" fill="#f2f2f2" stroke="#141414" stroke-width="0.8"/>
<circle cx="243.1" cy="478.9" r="2.9" fill="#f2f2f2" stroke="#141414" stroke-width="0.9"/>
<circle cx="243.7" cy="482.1" r="2.46" fill="#f2f2f2" stroke="#141414" stroke-width="0.8"/>
<circle cx="289.0" cy="461.0" r="2.9" fill="#f2f2f2" stroke="#141414" stroke-width="0.9"/>
<circle cx="289.6" cy="464.2" r="2.46" fill="#f2f2f2" stroke="#141414" stroke-width="0.8"/>
<circle cx="332.8" cy="444.1" r="2.9" fill="#f2f2f2" stroke="#141414" stroke-width="0.9"/>
<circle cx="333.4" cy="447.3" r="2.46" fill="#f2f2f2" stroke="#141414" stroke-width="0.8"/>
<circle cx="374.5" cy="427.8" r="2.9" fill="#f2f2f2" stroke="#141414" stroke-width="0.9"/>
<circle cx="375.1" cy="430.9" r="2.46" fill="#f2f2f2" stroke="#141414" stroke-width="0.8"/>
<circle cx="415.8" cy="411.4" r="2.9" fill="#f2f2f2" stroke="#141414" stroke-width="0.9"/>
<circle cx="416.4" cy="414.6" r="2.46" fill="#f2f2f2" stroke="#141414" stroke-width="0.8"/>
<g transform="matrix(7.00 5.60 0 9.20 212.90 477.90)"><rect width="1" height="1" fill="url(#gSlV)"/><ellipse cx="0.33" cy="0.43" rx="0.3" ry="0.3" fill="url(#gLobe)"/><ellipse cx="0.67" cy="0.57" rx="0.3" ry="0.3" fill="url(#gLobe)"/><rect width="1" height="1" fill="url(#gSlH)"/></g>
<ellipse cx="216.4" cy="485.3" rx="1.5" ry="2.6" fill="#20264a" stroke="#101020" stroke-width="0.5"/>
<g transform="matrix(6.86 5.49 0 9.02 259.47 459.75)"><rect width="1" height="1" fill="url(#gSlV)"/><ellipse cx="0.33" cy="0.43" rx="0.3" ry="0.3" fill="url(#gLobe)"/><ellipse cx="0.67" cy="0.57" rx="0.3" ry="0.3" fill="url(#gLobe)"/><rect width="1" height="1" fill="url(#gSlH)"/></g>
<ellipse cx="262.9" cy="467.0" rx="1.5" ry="2.6" fill="#20264a" stroke="#101020" stroke-width="0.5"/>
<g transform="matrix(6.72 5.38 0 8.84 305.04 442.49)"><rect width="1" height="1" fill="url(#gSlV)"/><ellipse cx="0.33" cy="0.43" rx="0.3" ry="0.3" fill="url(#gLobe)"/><ellipse cx="0.67" cy="0.57" rx="0.3" ry="0.3" fill="url(#gLobe)"/><rect width="1" height="1" fill="url(#gSlH)"/></g>
<ellipse cx="308.4" cy="449.6" rx="1.5" ry="2.6" fill="#20264a" stroke="#101020" stroke-width="0.5"/>
<g transform="matrix(6.59 5.27 0 8.66 347.31 426.34)"><rect width="1" height="1" fill="url(#gSlV)"/><ellipse cx="0.33" cy="0.43" rx="0.3" ry="0.3" fill="url(#gLobe)"/><ellipse cx="0.67" cy="0.57" rx="0.3" ry="0.3" fill="url(#gLobe)"/><rect width="1" height="1" fill="url(#gSlH)"/></g>
<ellipse cx="350.6" cy="433.3" rx="1.5" ry="2.6" fill="#20264a" stroke="#101020" stroke-width="0.5"/>
<g transform="matrix(6.46 5.17 0 8.49 388.67 410.17)"><rect width="1" height="1" fill="url(#gSlV)"/><ellipse cx="0.33" cy="0.43" rx="0.3" ry="0.3" fill="url(#gLobe)"/><ellipse cx="0.67" cy="0.57" rx="0.3" ry="0.3" fill="url(#gLobe)"/><rect width="1" height="1" fill="url(#gSlH)"/></g>
<ellipse cx="391.9" cy="417.0" rx="1.5" ry="2.6" fill="#20264a" stroke="#101020" stroke-width="0.5"/>
<circle cx="229" cy="507.6" r="1.9" fill="#c00000"/><circle cx="232.5" cy="511.4" r="1.9" fill="#c00000"/><circle cx="236" cy="515.1" r="1.9" fill="#c00000"/>
<text x="157" y="533.6" font-size="18.65" fill="#c00000" text-anchor="middle">High performance</text>
<text x="158" y="558" font-size="18.4" fill="#c00000" text-anchor="middle">computing</text>
<defs>
<linearGradient id="gFloor" x1="0" y1="0" x2="0" y2="1"><stop offset="0" stop-color="#ffffff"/><stop offset="1" stop-color="#d9dadd"/></linearGradient>
<linearGradient id="gCabF" x1="0" y1="0" x2="1" y2="1"><stop offset="0" stop-color="#4a4b52"/><stop offset="1" stop-color="#2c2d33"/></linearGradient>
<linearGradient id="gCabS" x1="0" y1="0" x2="1" y2="0"><stop offset="0" stop-color="#24252a"/><stop offset="1" stop-color="#34353b"/></linearGradient>
</defs>
<rect x="238" y="551" width="194" height="10" fill="url(#gFloor)"/>
<polygon points="266.0,522.3 270.5,524.5 267.0,556.5 261.5,556.5" fill="#1d1e22"/>
<polygon points="251.5,524.8 266.0,522.3 261.5,556.5 246.0,555.8" fill="url(#gCabF)"/>
<path d="M266.0,522.3 L262.8,546.9" stroke="#1f6fd0" stroke-width="0.7" fill="none"/>
<polygon points="287.3,518.0 292.3,520.5 292.3,557.2 287.3,557.3" fill="#1d1e22"/>
<polygon points="269.8,521.0 287.3,518.0 287.3,557.3 263.4,556.4" fill="url(#gCabF)"/>
<path d="M287.3,518.0 L287.3,546.3" stroke="#1f6fd0" stroke-width="0.7" fill="none"/>
<polygon points="315.5,512.3 322.3,515.5 322.6,556.8 317.3,557.5" fill="#1d1e22"/>
<polygon points="293.0,517.3 315.5,512.3 317.3,557.5 287.6,557.5" fill="url(#gCabF)"/>
<path d="M315.5,512.3 L316.8,544.8" stroke="#1f6fd0" stroke-width="0.7" fill="none"/>
<polygon points="356,502.3 422.3,528.5 423.5,552.6 355.5,555" fill="url(#gCabS)"/>
<path d="M324.5,510.3 L356,502.3 L355.5,555 L322.3,555 Z" fill="url(#gCabF)"/>
<path d="M356,502.6 L355.5,533.5 L423.4,544.8" stroke="#2a7fe0" stroke-width="0.8" fill="none"/>
<path d="M322.3,555.3 L355.5,555.3 L423.5,553" stroke="#0c0d10" stroke-width="1.4" fill="none"/>
<rect x="341" y="514.5" width="3.4" height="3" fill="#b89c68" opacity="0.8"/>
<rect x="255" y="531" width="2.4" height="2" fill="#b89c68" opacity="0.7"/>
<rect x="276" y="527.5" width="2.4" height="2" fill="#b89c68" opacity="0.7"/>
<rect x="302" y="522" width="2.4" height="2" fill="#b89c68" opacity="0.7"/>
<g>
<circle cx="663.2" cy="462.2" r="3.3" fill="#0004ff"/>
<circle cx="651.9" cy="372.4" r="3.3" fill="#0000f9"/>
<circle cx="664.0" cy="419.8" r="3.3" fill="#0012ff"/>
<circle cx="675.4" cy="385.2" r="3.3" fill="#005eff"/>
<circle cx="663.6" cy="424.7" r="3.3" fill="#0cfff3"/>
<circle cx="659.3" cy="382.5" r="3.3" fill="#0000a9"/>
<circle cx="664.5" cy="408.8" r="3.3" fill="#00fcff"/>
<circle cx="644.3" cy="382.4" r="3.3" fill="#0000bd"/>
<circle cx="644.2" cy="434.2" r="3.3" fill="#0000a7"/>
<circle cx="657.8" cy="422.8" r="3.3" fill="#0025ff"/>
<circle cx="632.8" cy="425.9" r="3.3" fill="#0000d0"/>
<circle cx="663.6" cy="397.0" r="3.3" fill="#0000e7"/>
<circle cx="636.9" cy="420.6" r="3.3" fill="#000bff"/>
<circle cx="661.3" cy="390.0" r="3.3" fill="#0000ba"/>
<circle cx="657.7" cy="395.8" r="3.3" fill="#007eff"/>
<circle cx="650.7" cy="367.1" r="3.3" fill="#0048ff"/>
<circle cx="674.7" cy="415.8" r="3.3" fill="#0083ff"/>
<circle cx="653.4" cy="442.0" r="3.3" fill="#0000d0"/>
<circle cx="665.1" cy="411.5" r="3.3" fill="#0033ff"/>
<circle cx="624.5" cy="476.3" r="3.3" fill="#00008d"/>
<circle cx="645.1" cy="365.8" r="3.3" fill="#0000e3"/>
<circle cx="665.7" cy="430.0" r="3.3" fill="#0023ff"/>
<circle cx="627.0" cy="484.4" r="3.3" fill="#00009d"/>
<circle cx="658.2" cy="440.3" r="3.3" fill="#0043ff"/>
<circle cx="666.3" cy="372.0" r="3.3" fill="#00daff"/>
<circle cx="664.8" cy="377.9" r="3.3" fill="#0000b9"/>
<circle cx="635.5" cy="394.6" r="3.3" fill="#0000c5"/>
<circle cx="636.4" cy="461.5" r="3.3" fill="#000099"/>
<circle cx="639.0" cy="427.9" r="3.3" fill="#0000d4"/>
<circle cx="657.7" cy="424.6" r="3.3" fill="#0000af"/>
<circle cx="654.3" cy="417.0" r="3.3" fill="#000099"/>
<circle cx="654.7" cy="424.0" r="3.3" fill="#0000b6"/>
<circle cx="645.6" cy="430.5" r="3.3" fill="#0000f4"/>
<circle cx="660.9" cy="426.9" r="3.3" fill="#0064ff"/>
<circle cx="658.6" cy="376.3" r="3.3" fill="#00009b"/>
<circle cx="644.6" cy="424.8" r="3.3" fill="#0000a2"/>
<circle cx="652.1" cy="426.6" r="3.3" fill="#0000b8"/>
<circle cx="651.5" cy="424.1" r="3.3" fill="#0000dd"/>
<circle cx="653.9" cy="415.4" r="3.3" fill="#00009f"/>
<circle cx="642.6" cy="425.2" r="3.3" fill="#0000d6"/>
<circle cx="651.3" cy="374.6" r="3.3" fill="#0000c6"/>
<circle cx="662.4" cy="431.4" r="3.3" fill="#007dff"/>
<circle cx="620.3" cy="433.2" r="3.3" fill="#0000a8"/>
<circle cx="659.2" cy="438.1" r="3.3" fill="#001dff"/>
<circle cx="643.4" cy="444.1" r="3.3" fill="#0000cc"/>
<circle cx="649.8" cy="401.9" r="3.3" fill="#0000c3"/>
<circle cx="610.8" cy="466.3" r="3.3" fill="#0000a2"/>
<circle cx="654.0" cy="396.5" r="3.3" fill="#0047ff"/>
<circle cx="641.2" cy="424.5" r="3.3" fill="#0000a0"/>
<circle cx="605.4" cy="402.5" r="3.3" fill="#000094"/>
<circle cx="661.5" cy="407.3" r="3.3" fill="#0018ff"/>
<circle cx="636.1" cy="427.7" r="3.3" fill="#0000d5"/>
<circle cx="664.3" cy="404.8" r="3.3" fill="#004bff"/>
<circle cx="656.0" cy="392.9" r="3.3" fill="#0039ff"/>
<circle cx="639.1" cy="446.3" r="3.3" fill="#0000b1"/>
<circle cx="646.7" cy="407.7" r="3.3" fill="#0016ff"/>
<circle cx="671.2" cy="406.3" r="3.3" fill="#0086ff"/>
<circle cx="651.0" cy="363.1" r="3.3" fill="#0000f8"/>
<circle cx="626.7" cy="407.4" r="3.3" fill="#0000d0"/>
<circle cx="659.3" cy="400.3" r="3.3" fill="#003eff"/>
<circle cx="642.6" cy="420.3" r="3.3" fill="#0000e6"/>
<circle cx="665.7" cy="415.3" r="3.3" fill="#0000fa"/>
<circle cx="647.3" cy="371.2" r="3.3" fill="#001cff"/>
<circle cx="640.7" cy="447.7" r="3.3" fill="#0003ff"/>
<circle cx="667.7" cy="413.2" r="3.3" fill="#0041ff"/>
<circle cx="655.7" cy="435.3" r="3.3" fill="#0009ff"/>
<circle cx="630.1" cy="446.6" r="3.3" fill="#000083"/>
<circle cx="634.8" cy="409.1" r="3.3" fill="#0000cc"/>
<circle cx="677.5" cy="404.5" r="3.3" fill="#0079ff"/>
<circle cx="657.7" cy="407.1" r="3.3" fill="#002eff"/>
<circle cx="616.0" cy="436.3" r="3.3" fill="#0000e6"/>
<circle cx="647.6" cy="438.0" r="3.3" fill="#0042ff"/>
<circle cx="648.2" cy="412.7" r="3.3" fill="#0065ff"/>
<circle cx="651.8" cy="403.9" r="3.3" fill="#0000a9"/>
<circle cx="658.2" cy="423.6" r="3.3" fill="#0042ff"/>
<circle cx="643.1" cy="416.4" r="3.3" fill="#0007ff"/>
<circle cx="641.4" cy="428.8" r="3.3" fill="#000087"/>
<circle cx="673.5" cy="386.6" r="3.3" fill="#0080ff"/>
<circle cx="642.8" cy="447.6" r="3.3" fill="#0000e3"/>
<circle cx="669.8" cy="405.0" r="3.3" fill="#0039ff"/>
<circle cx="663.6" cy="448.3" r="3.3" fill="#0069ff"/>
<circle cx="655.3" cy="418.7" r="3.3" fill="#0000ad"/>
<circle cx="644.0" cy="472.5" r="3.3" fill="#000093"/>
<circle cx="644.1" cy="424.9" r="3.3" fill="#0000c3"/>
<circle cx="649.6" cy="411.0" r="3.3" fill="#0000d0"/>
<circle cx="644.4" cy="413.8" r="3.3" fill="#0000fe"/>
<circle cx="658.7" cy="420.6" r="3.3" fill="#0022ff"/>
<circle cx="649.6" cy="431.8" r="3.3" fill="#0057ff"/>
<circle cx="662.6" cy="431.6" r="3.3" fill="#0023ff"/>
<circle cx="652.0" cy="409.4" r="3.3" fill="#005aff"/>
<circle cx="655.6" cy="406.8" r="3.3" fill="#007aff"/>
<circle cx="672.0" cy="432.3" r="3.3" fill="#009bff"/>
<circle cx="659.6" cy="412.5" r="3.3" fill="#0000af"/>
<circle cx="623.5" cy="391.3" r="3.3" fill="#00008a"/>
<circle cx="642.6" cy="409.8" r="3.3" fill="#0000c1"/>
<circle cx="656.6" cy="407.6" r="3.3" fill="#00009d"/>
<circle cx="671.6" cy="383.1" r="3.3" fill="#0053ff"/>
<circle cx="657.6" cy="438.1" r="3.3" fill="#0040ff"/>
<circle cx="652.0" cy="457.5" r="3.3" fill="#000095"/>
<circle cx="659.1" cy="421.9" r="3.3" fill="#0000a6"/>
<circle cx="634.3" cy="412.9" r="3.3" fill="#0000cf"/>
<circle cx="649.3" cy="436.6" r="3.3" fill="#0000d1"/>
<circle cx="645.0" cy="388.6" r="3.3" fill="#000080"/>
<circle cx="661.1" cy="404.1" r="3.3" fill="#0030ff"/>
<circle cx="607.5" cy="412.9" r="3.3" fill="#00009c"/>
<circle cx="659.1" cy="434.3" r="3.3" fill="#0000c9"/>
<circle cx="648.7" cy="415.1" r="3.3" fill="#0000f1"/>
<circle cx="635.7" cy="433.2" r="3.3" fill="#000096"/>
<circle cx="653.7" cy="439.8" r="3.3" fill="#0000a0"/>
<circle cx="657.5" cy="422.8" r="3.3" fill="#000aff"/>
<circle cx="635.1" cy="443.2" r="3.3" fill="#000085"/>
<circle cx="661.5" cy="376.1" r="3.3" fill="#0000e6"/>
<circle cx="655.9" cy="444.5" r="3.3" fill="#000090"/>
<circle cx="655.7" cy="414.9" r="3.3" fill="#0000a0"/>
<circle cx="640.1" cy="415.1" r="3.3" fill="#0000c9"/>
<circle cx="647.9" cy="373.8" r="3.3" fill="#0011ff"/>
<circle cx="655.6" cy="405.8" r="3.3" fill="#0000de"/>
<circle cx="639.2" cy="432.3" r="3.3" fill="#000080"/>
<circle cx="644.3" cy="413.6" r="3.3" fill="#00008f"/>
<circle cx="673.0" cy="434.2" r="3.3" fill="#006dff"/>
<circle cx="643.5" cy="349.1" r="3.3" fill="#0000f5"/>
<circle cx="624.1" cy="476.0" r="3.3" fill="#000084"/>
<circle cx="648.8" cy="442.2" r="3.3" fill="#000080"/>
<circle cx="660.4" cy="457.2" r="3.3" fill="#0047ff"/>
<circle cx="653.4" cy="473.0" r="3.3" fill="#0000a3"/>
<circle cx="661.6" cy="407.2" r="3.3" fill="#0000f5"/>
<circle cx="658.0" cy="410.9" r="3.3" fill="#0000e5"/>
<circle cx="647.1" cy="446.7" r="3.3" fill="#0000a7"/>
<circle cx="627.2" cy="447.3" r="3.3" fill="#0000ab"/>
<circle cx="586.0" cy="496.3" r="3.3" fill="#000094"/>
<circle cx="663.3" cy="431.4" r="3.3" fill="#0000ac"/>
<circle cx="655.6" cy="403.4" r="3.3" fill="#001cff"/>
<circle cx="631.8" cy="427.2" r="3.3" fill="#000091"/>
<circle cx="608.5" cy="477.5" r="3.3" fill="#00008e"/>
<circle cx="642.7" cy="430.4" r="3.3" fill="#0000b9"/>
<circle cx="642.1" cy="424.3" r="3.3" fill="#0000f8"/>
<circle cx="662.5" cy="434.6" r="3.3" fill="#0000d8"/>
<circle cx="650.0" cy="408.3" r="3.3" fill="#0000cb"/>
<circle cx="655.0" cy="441.4" r="3.3" fill="#0003ff"/>
<circle cx="643.1" cy="424.1" r="3.3" fill="#0000e6"/>
<circle cx="653.8" cy="403.4" r="3.3" fill="#005eff"/>
<circle cx="646.0" cy="455.1" r="3.3" fill="#0000e1"/>
<circle cx="594.1" cy="426.3" r="3.3" fill="#000094"/>
<circle cx="561.0" cy="464.4" r="3.3" fill="#00008b"/>
<circle cx="656.9" cy="379.7" r="3.3" fill="#003aff"/>
<circle cx="642.9" cy="372.5" r="3.3" fill="#002aff"/>
<circle cx="659.7" cy="373.3" r="3.3" fill="#000aff"/>
<circle cx="649.0" cy="437.1" r="3.3" fill="#0000c8"/>
<circle cx="656.6" cy="378.7" r="3.3" fill="#0000c3"/>
<circle cx="647.0" cy="420.6" r="3.3" fill="#0000db"/>
<circle cx="641.4" cy="361.0" r="3.3" fill="#000bff"/>
<circle cx="673.8" cy="378.1" r="3.3" fill="#0084ff"/>
<circle cx="601.6" cy="443.8" r="3.3" fill="#00008f"/>
<circle cx="644.6" cy="409.5" r="3.3" fill="#0000a8"/>
<circle cx="627.0" cy="477.5" r="3.3" fill="#00008b"/>
<circle cx="650.8" cy="417.8" r="3.3" fill="#0000f0"/>
<circle cx="645.5" cy="353.8" r="3.3" fill="#0000e2"/>
<circle cx="647.1" cy="355.0" r="3.3" fill="#0000f2"/>
<circle cx="660.2" cy="368.7" r="3.3" fill="#0047ff"/>
<circle cx="649.3" cy="423.6" r="3.3" fill="#0000aa"/>
<circle cx="675.2" cy="430.7" r="3.3" fill="#0090ff"/>
<circle cx="668.8" cy="405.0" r="3.3" fill="#0056ff"/>
<circle cx="667.0" cy="391.9" r="3.3" fill="#0022ff"/>
<circle cx="632.9" cy="406.5" r="3.3" fill="#0000d6"/>
<circle cx="644.4" cy="435.4" r="3.3" fill="#00008b"/>
<circle cx="618.5" cy="418.8" r="3.3" fill="#0000d1"/>
<circle cx="641.9" cy="359.8" r="3.3" fill="#0000d7"/>
<circle cx="586.0" cy="462.8" r="3.3" fill="#000081"/>
<circle cx="651.4" cy="401.2" r="3.3" fill="#0000a3"/>
<circle cx="646.0" cy="416.8" r="3.3" fill="#0000ae"/>
<circle cx="650.8" cy="432.6" r="3.3" fill="#003dff"/>
<circle cx="645.9" cy="419.6" r="3.3" fill="#0000bf"/>
<circle cx="653.9" cy="396.6" r="3.3" fill="#000091"/>
<circle cx="645.4" cy="428.3" r="3.3" fill="#0000b3"/>
<circle cx="634.7" cy="426.0" r="3.3" fill="#0000bf"/>
<circle cx="630.7" cy="421.6" r="3.3" fill="#0000df"/>
<circle cx="641.9" cy="422.1" r="3.3" fill="#0000ed"/>
<circle cx="599.1" cy="417.5" r="3.3" fill="#000098"/>
<circle cx="658.9" cy="422.3" r="3.3" fill="#0000b0"/>
<circle cx="638.9" cy="424.7" r="3.3" fill="#0000e1"/>
<circle cx="663.2" cy="394.1" r="3.3" fill="#004bff"/>
<circle cx="645.4" cy="408.2" r="3.3" fill="#000081"/>
<circle cx="662.6" cy="431.2" r="3.3" fill="#0056ff"/>
<circle cx="645.3" cy="450.3" r="3.3" fill="#0000c0"/>
<circle cx="667.0" cy="428.3" r="3.3" fill="#0000a4"/>
<circle cx="601.6" cy="402.3" r="3.3" fill="#00008b"/>
<circle cx="648.4" cy="374.7" r="3.3" fill="#001eff"/>
<circle cx="635.3" cy="388.1" r="3.3" fill="#0000b1"/>
<circle cx="655.0" cy="448.4" r="3.3" fill="#003cff"/>
<circle cx="657.8" cy="419.1" r="3.3" fill="#0000eb"/>
<circle cx="591.6" cy="372.8" r="3.3" fill="#000087"/>
<circle cx="647.9" cy="440.7" r="3.3" fill="#0001ff"/>
<circle cx="642.4" cy="437.6" r="3.3" fill="#001aff"/>
<circle cx="640.6" cy="439.5" r="3.3" fill="#000080"/>
<circle cx="657.9" cy="434.8" r="3.3" fill="#0055ff"/>
<circle cx="644.9" cy="452.2" r="3.3" fill="#003aff"/>
<circle cx="661.0" cy="445.1" r="3.3" fill="#0074ff"/>
<circle cx="616.0" cy="463.5" r="3.3" fill="#0000f0"/>
<circle cx="640.6" cy="451.3" r="3.3" fill="#0000d8"/>
<circle cx="683.5" cy="419.0" r="3.3" fill="#00f4ff"/>
<circle cx="618.5" cy="443.1" r="3.3" fill="#0000f0"/>
<circle cx="633.1" cy="412.4" r="3.3" fill="#0000c2"/>
<circle cx="661.8" cy="412.8" r="3.3" fill="#000099"/>
<circle cx="651.4" cy="451.1" r="3.3" fill="#0000bf"/>
<circle cx="641.7" cy="409.0" r="3.3" fill="#00009c"/>
<circle cx="655.8" cy="403.4" r="3.3" fill="#0091ff"/>
<circle cx="599.8" cy="410.6" r="3.3" fill="#00008a"/>
<circle cx="632.2" cy="448.7" r="3.3" fill="#000098"/>
<circle cx="672.0" cy="416.5" r="3.3" fill="#00baff"/>
<circle cx="566.6" cy="471.9" r="3.3" fill="#000085"/>
<circle cx="651.3" cy="432.4" r="3.3" fill="#0000db"/>
<circle cx="611.6" cy="452.5" r="3.3" fill="#00009e"/>
<circle cx="662.5" cy="368.2" r="3.3" fill="#0059ff"/>
<circle cx="646.8" cy="357.2" r="3.3" fill="#0000a1"/>
<circle cx="641.3" cy="434.1" r="3.3" fill="#0000eb"/>
<circle cx="641.7" cy="404.7" r="3.3" fill="#001dff"/>
<circle cx="623.1" cy="466.0" r="3.3" fill="#000088"/>
<circle cx="648.3" cy="393.1" r="3.3" fill="#000eff"/>
<circle cx="658.7" cy="427.1" r="3.3" fill="#0000d4"/>
<circle cx="654.4" cy="426.8" r="3.3" fill="#0043ff"/>
<circle cx="647.8" cy="430.4" r="3.3" fill="#0000da"/>
<circle cx="642.8" cy="381.7" r="3.3" fill="#0000a6"/>
<circle cx="637.0" cy="423.5" r="3.3" fill="#0000a7"/>
<circle cx="653.0" cy="428.7" r="3.3" fill="#0008ff"/>
<circle cx="646.7" cy="403.7" r="3.3" fill="#0000e9"/>
<circle cx="638.8" cy="422.6" r="3.3" fill="#0000e2"/>
<circle cx="660.4" cy="455.9" r="3.3" fill="#0000a6"/>
<circle cx="655.3" cy="441.7" r="3.3" fill="#0000bc"/>
<circle cx="642.3" cy="415.0" r="3.3" fill="#000cff"/>
<circle cx="650.5" cy="429.0" r="3.3" fill="#0000c3"/>
<circle cx="652.5" cy="422.7" r="3.3" fill="#0000ff"/>
<circle cx="646.5" cy="431.8" r="3.3" fill="#0000ef"/>
<circle cx="609.8" cy="470.3" r="3.3" fill="#0000d1"/>
<circle cx="650.6" cy="392.4" r="3.3" fill="#002cff"/>
<circle cx="616.6" cy="388.1" r="3.3" fill="#0000db"/>
<circle cx="625.4" cy="420.0" r="3.3" fill="#004dff"/>
<circle cx="642.0" cy="394.8" r="3.3" fill="#00009f"/>
<circle cx="653.1" cy="434.2" r="3.3" fill="#000aff"/>
<circle cx="640.9" cy="404.7" r="3.3" fill="#0000af"/>
<circle cx="581.6" cy="451.3" r="3.3" fill="#00008d"/>
<circle cx="664.8" cy="413.8" r="3.3" fill="#0005ff"/>
<circle cx="631.1" cy="428.7" r="3.3" fill="#000080"/>
<circle cx="628.5" cy="466.9" r="3.3" fill="#0000c7"/>
<circle cx="647.9" cy="441.9" r="3.3" fill="#0013ff"/>
<circle cx="635.6" cy="409.4" r="3.3" fill="#0000be"/>
<circle cx="660.3" cy="395.9" r="3.3" fill="#0000d6"/>
<circle cx="634.5" cy="465.2" r="3.3" fill="#000080"/>
<circle cx="668.3" cy="378.7" r="3.3" fill="#005cff"/>
<circle cx="653.9" cy="456.4" r="3.3" fill="#005aff"/>
<circle cx="668.4" cy="416.1" r="3.3" fill="#008dff"/>
<circle cx="656.9" cy="363.3" r="3.3" fill="#0049ff"/>
<circle cx="668.4" cy="418.7" r="3.3" fill="#0084ff"/>
<circle cx="643.9" cy="421.7" r="3.3" fill="#0000fd"/>
<circle cx="621.6" cy="368.1" r="3.3" fill="#0000fa"/>
<circle cx="591.6" cy="481.9" r="3.3" fill="#000087"/>
<circle cx="629.9" cy="433.4" r="3.3" fill="#000093"/>
<circle cx="655.9" cy="431.8" r="3.3" fill="#0000cc"/>
<circle cx="654.5" cy="387.1" r="3.3" fill="#0000cf"/>
<circle cx="641.2" cy="429.8" r="3.3" fill="#0000ef"/>
<circle cx="616.0" cy="451.3" r="3.3" fill="#0000db"/>
<circle cx="639.5" cy="399.5" r="3.3" fill="#00009c"/>
<circle cx="645.0" cy="372.8" r="3.3" fill="#0050ff"/>
<circle cx="632.5" cy="438.3" r="3.3" fill="#00008a"/>
<circle cx="618.2" cy="439.6" r="3.3" fill="#0000af"/>
<circle cx="668.7" cy="415.2" r="3.3" fill="#001eff"/>
<circle cx="646.3" cy="406.0" r="3.3" fill="#0000fc"/>
<circle cx="659.6" cy="435.5" r="3.3" fill="#0000fa"/>
<circle cx="659.0" cy="409.3" r="3.3" fill="#003bff"/>
<circle cx="659.1" cy="443.9" r="3.3" fill="#00b2ff"/>
<circle cx="682.0" cy="416.6" r="3.3" fill="#00d4ff"/>
<circle cx="662.7" cy="420.5" r="3.3" fill="#003fff"/>
<circle cx="657.2" cy="377.1" r="3.3" fill="#0004ff"/>
<circle cx="635.7" cy="437.8" r="3.3" fill="#00008c"/>
<circle cx="656.8" cy="409.9" r="3.3" fill="#0017ff"/>
<circle cx="626.9" cy="416.9" r="3.3" fill="#0000a7"/>
<circle cx="663.6" cy="415.3" r="3.3" fill="#00d8ff"/>
<circle cx="643.5" cy="438.0" r="3.3" fill="#0000db"/>
<circle cx="664.5" cy="406.2" r="3.3" fill="#0000ba"/>
<circle cx="645.1" cy="403.2" r="3.3" fill="#000095"/>
<circle cx="644.5" cy="420.3" r="3.3" fill="#0020ff"/>
<circle cx="678.9" cy="421.0" r="3.3" fill="#0091ff"/>
<circle cx="661.0" cy="396.7" r="3.3" fill="#0000b2"/>
<circle cx="645.2" cy="425.5" r="3.3" fill="#0000d6"/>
<circle cx="632.3" cy="440.6" r="3.3" fill="#0094ff"/>
<circle cx="654.0" cy="455.2" r="3.3" fill="#0000b3"/>
<circle cx="658.9" cy="452.3" r="3.3" fill="#0047ff"/>
<circle cx="651.3" cy="357.9" r="3.3" fill="#0026ff"/>
<circle cx="642.2" cy="422.6" r="3.3" fill="#0000ef"/>
<circle cx="654.5" cy="467.5" r="3.3" fill="#0043ff"/>
<circle cx="675.1" cy="408.5" r="3.3" fill="#0065ff"/>
<circle cx="650.2" cy="398.8" r="3.3" fill="#002eff"/>
<circle cx="631.0" cy="387.5" r="3.3" fill="#000084"/>
<circle cx="640.7" cy="413.6" r="3.3" fill="#000099"/>
<circle cx="649.6" cy="470.8" r="3.3" fill="#0000c3"/>
<circle cx="561.0" cy="482.8" r="3.3" fill="#000093"/>
<circle cx="656.4" cy="391.9" r="3.3" fill="#0041ff"/>
<circle cx="677.1" cy="402.3" r="3.3" fill="#06fff9"/>
<circle cx="647.7" cy="420.3" r="3.3" fill="#0001ff"/>
<circle cx="662.5" cy="413.5" r="3.3" fill="#00d0ff"/>
<circle cx="648.1" cy="413.4" r="3.3" fill="#0000a8"/>
<circle cx="666.0" cy="454.3" r="3.3" fill="#0009ff"/>
<circle cx="649.6" cy="402.7" r="3.3" fill="#0000a5"/>
<circle cx="651.9" cy="389.4" r="3.3" fill="#0010ff"/>
<circle cx="655.7" cy="415.2" r="3.3" fill="#0010ff"/>
<circle cx="659.2" cy="421.7" r="3.3" fill="#0042ff"/>
<circle cx="658.7" cy="402.2" r="3.3" fill="#0000a7"/>
<circle cx="599.8" cy="474.0" r="3.3" fill="#000096"/>
<circle cx="637.5" cy="468.4" r="3.3" fill="#0000de"/>
<circle cx="652.7" cy="392.3" r="3.3" fill="#0000e4"/>
<circle cx="675.0" cy="429.1" r="3.3" fill="#00e5ff"/>
<circle cx="664.1" cy="394.8" r="3.3" fill="#0076ff"/>
<circle cx="662.1" cy="407.8" r="3.3" fill="#0000f3"/>
<circle cx="645.0" cy="471.4" r="3.3" fill="#002dff"/>
<circle cx="659.6" cy="403.5" r="3.3" fill="#0016ff"/>
<circle cx="662.8" cy="455.2" r="3.3" fill="#0000c8"/>
<circle cx="638.8" cy="437.5" r="3.3" fill="#0000a1"/>
<circle cx="662.3" cy="414.8" r="3.3" fill="#0028ff"/>
<circle cx="652.8" cy="387.0" r="3.3" fill="#0000b0"/>
<circle cx="651.8" cy="353.8" r="3.3" fill="#001aff"/>
<circle cx="658.1" cy="413.1" r="3.3" fill="#0000ab"/>
<circle cx="659.2" cy="409.8" r="3.3" fill="#000bff"/>
<circle cx="654.4" cy="370.0" r="3.3" fill="#006fff"/>
<circle cx="655.9" cy="410.3" r="3.3" fill="#0061ff"/>
<circle cx="665.7" cy="440.1" r="3.3" fill="#0060ff"/>
<circle cx="648.0" cy="408.9" r="3.3" fill="#0051ff"/>
<circle cx="647.5" cy="429.8" r="3.3" fill="#0049ff"/>
<circle cx="587.3" cy="459.4" r="3.3" fill="#00008f"/>
<circle cx="624.8" cy="411.3" r="3.3" fill="#00009f"/>
<circle cx="617.4" cy="446.6" r="3.3" fill="#0000a0"/>
<circle cx="660.6" cy="416.8" r="3.3" fill="#0000b2"/>
<circle cx="672.8" cy="406.0" r="3.3" fill="#2bffd4"/>
<circle cx="648.9" cy="357.6" r="3.3" fill="#0044ff"/>
<circle cx="617.0" cy="492.5" r="3.3" fill="#000086"/>
<circle cx="661.4" cy="410.6" r="3.3" fill="#007eff"/>
<circle cx="673.5" cy="418.7" r="3.3" fill="#00aeff"/>
<circle cx="659.3" cy="362.7" r="3.3" fill="#0058ff"/>
<circle cx="655.3" cy="419.9" r="3.3" fill="#006dff"/>
<circle cx="638.9" cy="382.7" r="3.3" fill="#002fff"/>
<circle cx="660.6" cy="401.6" r="3.3" fill="#0054ff"/>
<circle cx="649.0" cy="353.9" r="3.3" fill="#003aff"/>
<circle cx="651.6" cy="443.9" r="3.3" fill="#0000a0"/>
<circle cx="637.6" cy="435.0" r="3.3" fill="#000eff"/>
<circle cx="652.3" cy="469.7" r="3.3" fill="#003fff"/>
<circle cx="634.6" cy="460.7" r="3.3" fill="#0000b9"/>
<circle cx="670.1" cy="440.2" r="3.3" fill="#002bff"/>
<circle cx="655.8" cy="362.6" r="3.3" fill="#0031ff"/>
<circle cx="640.0" cy="364.1" r="3.3" fill="#0000cd"/>
<circle cx="619.8" cy="456.9" r="3.3" fill="#00008a"/>
<circle cx="652.9" cy="411.4" r="3.3" fill="#0025ff"/>
<circle cx="653.2" cy="423.4" r="3.3" fill="#0028ff"/>
<circle cx="651.9" cy="439.0" r="3.3" fill="#0035ff"/>
<circle cx="664.9" cy="348.6" r="3.3" fill="#004dff"/>
<circle cx="646.0" cy="375.3" r="3.3" fill="#0023ff"/>
<circle cx="649.2" cy="430.5" r="3.3" fill="#0000be"/>
<circle cx="671.2" cy="406.1" r="3.3" fill="#00a1ff"/>
<circle cx="665.8" cy="438.8" r="3.3" fill="#003bff"/>
<circle cx="667.9" cy="414.9" r="3.3" fill="#002eff"/>
<circle cx="606.0" cy="440.6" r="3.3" fill="#00009d"/>
<circle cx="650.7" cy="436.7" r="3.3" fill="#0000cd"/>
<circle cx="658.7" cy="412.7" r="3.3" fill="#0066ff"/>
<circle cx="628.3" cy="408.8" r="3.3" fill="#0000c9"/>
<circle cx="594.1" cy="478.5" r="3.3" fill="#000084"/>
<circle cx="656.0" cy="434.1" r="3.3" fill="#0017ff"/>
<circle cx="663.0" cy="403.0" r="3.3" fill="#0079ff"/>
<circle cx="589.8" cy="454.4" r="3.3" fill="#000092"/>
<circle cx="650.1" cy="456.4" r="3.3" fill="#0009ff"/>
<circle cx="643.8" cy="423.2" r="3.3" fill="#0000b8"/>
<circle cx="656.9" cy="391.9" r="3.3" fill="#0061ff"/>
<circle cx="646.6" cy="439.9" r="3.3" fill="#0000cd"/>
<circle cx="571.6" cy="470.3" r="3.3" fill="#000097"/>
<circle cx="642.4" cy="402.2" r="3.3" fill="#0000c3"/>
<circle cx="662.5" cy="403.2" r="3.3" fill="#002fff"/>
<circle cx="645.5" cy="440.7" r="3.3" fill="#0000c2"/>
<circle cx="649.6" cy="430.7" r="3.3" fill="#0000b7"/>
<circle cx="660.1" cy="423.0" r="3.3" fill="#00acff"/>
<circle cx="650.2" cy="417.1" r="3.3" fill="#0000ba"/>
<circle cx="657.1" cy="420.1" r="3.3" fill="#0000ec"/>
<circle cx="649.2" cy="426.0" r="3.3" fill="#0000a0"/>
<circle cx="659.0" cy="409.8" r="3.3" fill="#0016ff"/>
<circle cx="629.8" cy="441.9" r="3.3" fill="#000094"/>
<circle cx="676.0" cy="375.0" r="3.3" fill="#00e4ff"/>
<circle cx="658.0" cy="391.5" r="3.3" fill="#003aff"/>
<circle cx="643.9" cy="405.6" r="3.3" fill="#0000cd"/>
<circle cx="647.9" cy="454.8" r="3.3" fill="#0000b7"/>
<circle cx="638.9" cy="441.4" r="3.3" fill="#0000bf"/>
<circle cx="669.6" cy="414.1" r="3.3" fill="#0047ff"/>
<circle cx="662.7" cy="400.1" r="3.3" fill="#0000c2"/>
<circle cx="665.5" cy="378.0" r="3.3" fill="#0071ff"/>
<circle cx="656.0" cy="370.7" r="3.3" fill="#003dff"/>
<circle cx="649.3" cy="421.5" r="3.3" fill="#0000c8"/>
<circle cx="643.0" cy="451.4" r="3.3" fill="#002fff"/>
<circle cx="611.0" cy="433.8" r="3.3" fill="#000085"/>
<circle cx="664.0" cy="413.8" r="3.3" fill="#0000ad"/>
<circle cx="592.9" cy="464.8" r="3.3" fill="#000082"/>
<circle cx="661.0" cy="389.9" r="3.3" fill="#0072ff"/>
<circle cx="617.9" cy="418.6" r="3.3" fill="#000080"/>
<circle cx="659.1" cy="416.6" r="3.3" fill="#0017ff"/>
<circle cx="637.2" cy="437.0" r="3.3" fill="#000080"/>
<circle cx="635.5" cy="434.5" r="3.3" fill="#0018ff"/>
<circle cx="659.7" cy="457.1" r="3.3" fill="#0033ff"/>
<circle cx="600.8" cy="464.4" r="3.3" fill="#000083"/>
<circle cx="649.8" cy="369.9" r="3.3" fill="#0012ff"/>
<circle cx="663.5" cy="424.6" r="3.3" fill="#004aff"/>
<circle cx="658.2" cy="452.5" r="3.3" fill="#005cff"/>
<circle cx="653.7" cy="407.4" r="3.3" fill="#0000cd"/>
<circle cx="657.6" cy="427.0" r="3.3" fill="#0000bb"/>
<circle cx="671.4" cy="400.3" r="3.3" fill="#0084ff"/>
<circle cx="650.8" cy="491.7" r="3.3" fill="#000082"/>
<circle cx="637.0" cy="370.5" r="3.3" fill="#000099"/>
<circle cx="668.0" cy="427.0" r="3.3" fill="#0000b4"/>
<circle cx="640.4" cy="436.1" r="3.3" fill="#0000e8"/>
<circle cx="653.0" cy="471.3" r="3.3" fill="#000cff"/>
<circle cx="642.0" cy="374.6" r="3.3" fill="#0000fe"/>
<circle cx="655.3" cy="429.1" r="3.3" fill="#0059ff"/>
<circle cx="674.8" cy="423.1" r="3.3" fill="#09fff6"/>
<circle cx="636.0" cy="440.1" r="3.3" fill="#0000bc"/>
<circle cx="640.5" cy="427.6" r="3.3" fill="#00008a"/>
<circle cx="641.1" cy="438.8" r="3.3" fill="#0000af"/>
<circle cx="650.7" cy="396.1" r="3.3" fill="#00008b"/>
<circle cx="609.1" cy="401.5" r="3.3" fill="#000090"/>
<circle cx="637.9" cy="456.0" r="3.3" fill="#000087"/>
<circle cx="663.6" cy="397.4" r="3.3" fill="#007cff"/>
<circle cx="602.9" cy="392.8" r="3.3" fill="#00008f"/>
<circle cx="654.6" cy="436.2" r="3.3" fill="#0067ff"/>
<circle cx="648.3" cy="374.0" r="3.3" fill="#0000e7"/>
<circle cx="636.9" cy="452.6" r="3.3" fill="#0000a1"/>
<circle cx="639.4" cy="429.4" r="3.3" fill="#000098"/>
<circle cx="641.1" cy="453.8" r="3.3" fill="#0000eb"/>
<circle cx="647.4" cy="441.5" r="3.3" fill="#001dff"/>
<circle cx="667.9" cy="398.2" r="3.3" fill="#00a9ff"/>
<circle cx="660.6" cy="431.7" r="3.3" fill="#0003ff"/>
<circle cx="648.3" cy="360.7" r="3.3" fill="#0018ff"/>
<circle cx="666.1" cy="410.9" r="3.3" fill="#0022ff"/>
<circle cx="650.0" cy="477.0" r="3.3" fill="#000082"/>
<circle cx="669.5" cy="416.0" r="3.3" fill="#0015ff"/>
<circle cx="654.6" cy="414.5" r="3.3" fill="#005cff"/>
<circle cx="656.7" cy="451.9" r="3.3" fill="#0053ff"/>
<circle cx="665.0" cy="396.3" r="3.3" fill="#0045ff"/>
<circle cx="672.2" cy="358.3" r="3.3" fill="#0053ff"/>
<circle cx="638.1" cy="419.4" r="3.3" fill="#0000ae"/>
<circle cx="642.0" cy="395.7" r="3.3" fill="#0000f4"/>
<circle cx="656.8" cy="406.5" r="3.3" fill="#0000d9"/>
<circle cx="650.1" cy="358.0" r="3.3" fill="#0003ff"/>
<circle cx="655.6" cy="437.0" r="3.3" fill="#0000bf"/>
<circle cx="566.9" cy="477.5" r="3.3" fill="#000082"/>
<circle cx="656.5" cy="424.8" r="3.3" fill="#0006ff"/>
<circle cx="630.8" cy="460.4" r="3.3" fill="#0000dd"/>
<circle cx="657.0" cy="358.1" r="3.3" fill="#0026ff"/>
<circle cx="639.5" cy="440.2" r="3.3" fill="#000091"/>
<circle cx="654.8" cy="417.6" r="3.3" fill="#0000e4"/>
<circle cx="650.2" cy="407.2" r="3.3" fill="#0000b8"/>
<circle cx="640.4" cy="446.2" r="3.3" fill="#0000c7"/>
<circle cx="652.9" cy="429.4" r="3.3" fill="#0000fd"/>
<circle cx="679.0" cy="418.2" r="3.3" fill="#0000dc"/>
<circle cx="642.0" cy="443.1" r="3.3" fill="#000dff"/>
<circle cx="656.6" cy="418.0" r="3.3" fill="#0000b7"/>
<circle cx="642.7" cy="412.3" r="3.3" fill="#0018ff"/>
<circle cx="640.1" cy="437.5" r="3.3" fill="#0016ff"/>
<circle cx="658.6" cy="353.4" r="3.3" fill="#0029ff"/>
<circle cx="622.7" cy="436.6" r="3.3" fill="#000080"/>
<circle cx="632.3" cy="423.1" r="3.3" fill="#0000c2"/>
<circle cx="626.8" cy="484.5" r="3.3" fill="#000096"/>
<circle cx="661.3" cy="437.0" r="3.3" fill="#0000ff"/>
<circle cx="658.4" cy="425.1" r="3.3" fill="#0065ff"/>
<circle cx="661.4" cy="436.1" r="3.3" fill="#0000b5"/>
<circle cx="637.4" cy="463.2" r="3.3" fill="#0000b9"/>
<circle cx="659.0" cy="425.4" r="3.3" fill="#0095ff"/>
<circle cx="634.0" cy="445.3" r="3.3" fill="#0000d3"/>
<circle cx="643.0" cy="404.5" r="3.3" fill="#000097"/>
<circle cx="638.9" cy="385.6" r="3.3" fill="#000080"/>
<circle cx="661.7" cy="457.8" r="3.3" fill="#0000da"/>
<circle cx="655.8" cy="400.2" r="3.3" fill="#0000b7"/>
<circle cx="645.2" cy="400.0" r="3.3" fill="#0000c0"/>
<circle cx="653.0" cy="439.9" r="3.3" fill="#0000ba"/>
<circle cx="636.2" cy="453.1" r="3.3" fill="#0000d8"/>
<circle cx="650.6" cy="425.0" r="3.3" fill="#0000b8"/>
<circle cx="652.0" cy="436.8" r="3.3" fill="#0000df"/>
<circle cx="599.5" cy="377.5" r="3.3" fill="#000098"/>
<circle cx="661.6" cy="429.5" r="3.3" fill="#0024ff"/>
<circle cx="650.0" cy="422.0" r="3.3" fill="#0032ff"/>
<circle cx="642.3" cy="374.1" r="3.3" fill="#000cff"/>
<circle cx="639.1" cy="409.6" r="3.3" fill="#0000f1"/>
<circle cx="656.0" cy="429.2" r="3.3" fill="#0059ff"/>
<circle cx="650.5" cy="422.6" r="3.3" fill="#0000f9"/>
<circle cx="652.7" cy="439.2" r="3.3" fill="#000080"/>
<circle cx="664.4" cy="387.4" r="3.3" fill="#003cff"/>
<circle cx="674.3" cy="414.2" r="3.3" fill="#0084ff"/>
<circle cx="631.9" cy="411.5" r="3.3" fill="#0000e1"/>
<circle cx="668.3" cy="383.0" r="3.3" fill="#0086ff"/>
<circle cx="629.1" cy="395.0" r="3.3" fill="#0000a2"/>
<circle cx="656.5" cy="415.5" r="3.3" fill="#0003ff"/>
<circle cx="650.9" cy="456.9" r="3.3" fill="#0000a1"/>
<circle cx="652.9" cy="463.5" r="3.3" fill="#000aff"/>
<circle cx="667.5" cy="439.7" r="3.3" fill="#005eff"/>
<circle cx="660.6" cy="425.2" r="3.3" fill="#00d3ff"/>
<circle cx="622.3" cy="405.6" r="3.3" fill="#000097"/>
<circle cx="645.6" cy="377.3" r="3.3" fill="#0050ff"/>
<circle cx="628.5" cy="383.8" r="3.3" fill="#00009a"/>
<circle cx="663.8" cy="388.0" r="3.3" fill="#11ffee"/>
<circle cx="641.9" cy="411.4" r="3.3" fill="#0000ef"/>
<circle cx="645.0" cy="439.2" r="3.3" fill="#0018ff"/>
<circle cx="668.9" cy="416.5" r="3.3" fill="#0000f7"/>
<circle cx="575.8" cy="490.9" r="3.3" fill="#0000a1"/>
<circle cx="662.5" cy="412.4" r="3.3" fill="#0000fd"/>
<circle cx="634.3" cy="466.4" r="3.3" fill="#000099"/>
<circle cx="648.9" cy="441.7" r="3.3" fill="#0000f6"/>
<circle cx="643.7" cy="391.5" r="3.3" fill="#000092"/>
<circle cx="636.4" cy="407.3" r="3.3" fill="#0000a4"/>
<circle cx="662.7" cy="426.2" r="3.3" fill="#0095ff"/>
<circle cx="652.2" cy="439.2" r="3.3" fill="#0000e3"/>
<circle cx="640.7" cy="430.7" r="3.3" fill="#0000f0"/>
<circle cx="648.0" cy="440.1" r="3.3" fill="#0016ff"/>
<circle cx="645.9" cy="391.0" r="3.3" fill="#000086"/>
<circle cx="648.8" cy="363.2" r="3.3" fill="#0000f0"/>
<circle cx="672.1" cy="422.6" r="3.3" fill="#0000b4"/>
<circle cx="652.3" cy="418.9" r="3.3" fill="#0097ff"/>
<circle cx="641.9" cy="429.5" r="3.3" fill="#0000f1"/>
<circle cx="658.9" cy="388.3" r="3.3" fill="#001aff"/>
<circle cx="611.0" cy="424.8" r="3.3" fill="#000092"/>
<circle cx="634.0" cy="407.8" r="3.3" fill="#000080"/>
<circle cx="656.5" cy="454.4" r="3.3" fill="#0000b7"/>
<circle cx="617.3" cy="467.5" r="3.3" fill="#000081"/>
<circle cx="654.5" cy="449.7" r="3.3" fill="#0000af"/>
<circle cx="668.5" cy="419.4" r="3.3" fill="#0076ff"/>
<circle cx="652.2" cy="431.0" r="3.3" fill="#0059ff"/>
<circle cx="667.2" cy="406.3" r="3.3" fill="#0042ff"/>
<circle cx="588.3" cy="455.0" r="3.3" fill="#000082"/>
<circle cx="630.2" cy="422.4" r="3.3" fill="#000080"/>
<circle cx="647.9" cy="404.3" r="3.3" fill="#0000f4"/>
<circle cx="637.4" cy="422.8" r="3.3" fill="#0000a8"/>
<circle cx="634.4" cy="452.3" r="3.3" fill="#000096"/>
<circle cx="644.8" cy="402.9" r="3.3" fill="#0007ff"/>
<circle cx="658.6" cy="448.7" r="3.3" fill="#0000a3"/>
<circle cx="651.8" cy="367.9" r="3.3" fill="#0000ca"/>
<circle cx="654.0" cy="399.8" r="3.3" fill="#0000a1"/>
<circle cx="663.0" cy="401.5" r="3.3" fill="#00d0ff"/>
<circle cx="597.9" cy="422.5" r="3.3" fill="#000088"/>
<circle cx="632.9" cy="454.8" r="3.3" fill="#000085"/>
<circle cx="656.5" cy="407.7" r="3.3" fill="#0030ff"/>
<circle cx="654.3" cy="428.6" r="3.3" fill="#0afff5"/>
<circle cx="648.1" cy="405.1" r="3.3" fill="#0000d1"/>
<circle cx="654.6" cy="391.7" r="3.3" fill="#0018ff"/>
<circle cx="659.7" cy="413.8" r="3.3" fill="#0000be"/>
<circle cx="639.3" cy="356.0" r="3.3" fill="#000cff"/>
<circle cx="649.8" cy="414.3" r="3.3" fill="#000098"/>
<circle cx="663.9" cy="385.9" r="3.3" fill="#001bff"/>
<circle cx="655.6" cy="405.2" r="3.3" fill="#0000b8"/>
<circle cx="659.8" cy="423.5" r="3.3" fill="#0097ff"/>
<circle cx="639.6" cy="463.0" r="3.3" fill="#000080"/>
<circle cx="653.4" cy="411.8" r="3.3" fill="#00c3ff"/>
<circle cx="661.3" cy="331.2" r="3.3" fill="#0a0af2"/>
<circle cx="660.6" cy="334.5" r="3.3" fill="#0a0af2"/>
<circle cx="659.6" cy="338.0" r="3.3" fill="#0a0af2"/>
<circle cx="658.8" cy="341.5" r="3.3" fill="#0a0af2"/>
<circle cx="658.0" cy="345.0" r="3.3" fill="#0a0af2"/>
<circle cx="657.4" cy="339.0" r="3.3" fill="#0a0af2"/>
<circle cx="656.4" cy="343.0" r="3.3" fill="#0a0af2"/>
<circle cx="656.0" cy="347.5" r="3.3" fill="#0a0af2"/>
<circle cx="655.0" cy="351.0" r="3.3" fill="#0a0af2"/>
<circle cx="652.5" cy="353.5" r="3.3" fill="#0a0af2"/>
<circle cx="651.0" cy="357.0" r="3.3" fill="#0a0af2"/>
<circle cx="650.4" cy="361.0" r="3.3" fill="#0a0af2"/>
<circle cx="649.6" cy="365.0" r="3.3" fill="#0a0af2"/>
<circle cx="649.0" cy="369.0" r="3.3" fill="#0a0af2"/>
<circle cx="648.4" cy="373.0" r="3.3" fill="#0a0af2"/>
<circle cx="647.6" cy="377.0" r="3.3" fill="#0a0af2"/>
<circle cx="651.5" cy="364.0" r="3.3" fill="#0a0af2"/>
<circle cx="653.0" cy="370.0" r="3.3" fill="#0a0af2"/>
<circle cx="655.0" cy="374.0" r="3.3" fill="#0a0af2"/>
<circle cx="657.0" cy="378.0" r="3.3" fill="#0a0af2"/>
<circle cx="646.5" cy="381.0" r="3.3" fill="#0a0af2"/>
<circle cx="648.0" cy="386.0" r="3.3" fill="#0a0af2"/>
<circle cx="644.8" cy="299.5" r="3.3" fill="#0005ff"/>
<circle cx="636.8" cy="307.3" r="3.3" fill="#0005ff"/>
<circle cx="641.8" cy="317.2" r="3.3" fill="#002eff"/>
<circle cx="652.0" cy="320.2" r="3.3" fill="#00d1ff"/>
<circle cx="660.2" cy="312.5" r="3.3" fill="#38ffc7"/>
<circle cx="698.0" cy="319.0" r="3.3" fill="#9e0000"/>
<circle cx="635.5" cy="328.3" r="3.3" fill="#0019ff"/>
<circle cx="681.8" cy="332.2" r="3.3" fill="#ff2e00"/>
<circle cx="679.3" cy="333.3" r="3.3" fill="#0000c7"/>
<circle cx="665.0" cy="352.8" r="3.3" fill="#fffa00"/>
<circle cx="646.7" cy="353.5" r="3.3" fill="#00f0ff"/>
<circle cx="635.0" cy="356.5" r="3.3" fill="#004dff"/>
<circle cx="641.0" cy="358.8" r="3.3" fill="#000094"/>
<circle cx="656.8" cy="358.8" r="3.3" fill="#80ff80"/>
<circle cx="665.5" cy="359.5" r="3.3" fill="#0000c7"/>
<circle cx="678.5" cy="360.5" r="3.3" fill="#61ff9e"/>
<circle cx="671.0" cy="363.3" r="3.3" fill="#00f0ff"/>
<circle cx="671.8" cy="366.7" r="3.3" fill="#00f0ff"/>
<circle cx="691.5" cy="365.2" r="3.3" fill="#b30000"/>
<circle cx="621.5" cy="367.8" r="3.3" fill="#0000fa"/>
<circle cx="635.0" cy="368.0" r="3.3" fill="#004dff"/>
<circle cx="641.0" cy="368.5" r="3.3" fill="#00b3ff"/>
<circle cx="652.3" cy="366.7" r="3.3" fill="#004dff"/>
<circle cx="656.8" cy="370.0" r="3.3" fill="#000fff"/>
<circle cx="659.0" cy="373.0" r="3.3" fill="#000fff"/>
<circle cx="695.8" cy="375.1" r="3.3" fill="#009eff"/>
<circle cx="636.5" cy="376.0" r="3.3" fill="#0000e6"/>
<circle cx="666.5" cy="376.0" r="3.3" fill="#004dff"/>
<circle cx="687.5" cy="396.2" r="3.3" fill="#e50000"/>
<circle cx="684.8" cy="376.7" r="3.3" fill="#ffc700"/>
<circle cx="680.0" cy="379.3" r="3.3" fill="#61ff9e"/>
<circle cx="686.0" cy="382.3" r="3.3" fill="#ff8a00"/>
<circle cx="680.0" cy="392.0" r="3.3" fill="#d1ff2e"/>
<circle cx="680.8" cy="387.5" r="3.3" fill="#0000e6"/>
<circle cx="684.5" cy="392.0" r="3.3" fill="#ff9e00"/>
<circle cx="683.8" cy="396.5" r="3.3" fill="#ff8a00"/>
<circle cx="694.7" cy="396.0" r="3.3" fill="#800000"/>
<circle cx="684.5" cy="408.5" r="3.3" fill="#ff9e00"/>
<circle cx="682.3" cy="410.8" r="3.3" fill="#ff9400"/>
<circle cx="675.5" cy="449.3" r="3.3" fill="#0094ff"/>
<circle cx="672.8" cy="448.6" r="3.3" fill="#0094ff"/>
<circle cx="653.0" cy="428.0" r="3.3" fill="#2effd1"/>
<circle cx="655.5" cy="431.0" r="3.3" fill="#80ff80"/>
<circle cx="654.0" cy="434.0" r="3.3" fill="#d1ff2e"/>
<circle cx="651.0" cy="430.5" r="3.3" fill="#00f0ff"/>
<circle cx="660.0" cy="417.5" r="3.3" fill="#b3ff4c"/>
<circle cx="648.0" cy="411.0" r="3.3" fill="#00f0ff"/>
<circle cx="668.0" cy="405.0" r="3.3" fill="#05fffa"/>
<circle cx="672.0" cy="396.0" r="3.3" fill="#00f0ff"/>
<circle cx="663.0" cy="388.0" r="3.3" fill="#00d1ff"/>
<circle cx="670.0" cy="418.0" r="3.3" fill="#00dbff"/>
<circle cx="676.0" cy="425.0" r="3.3" fill="#00b3ff"/>
<circle cx="664.0" cy="440.0" r="3.3" fill="#0094ff"/>
<circle cx="646.0" cy="396.0" r="3.3" fill="#00b3ff"/>
<circle cx="660.0" cy="398.0" r="3.3" fill="#00b3ff"/>
<circle cx="667.0" cy="384.0" r="3.3" fill="#00b3ff"/>
</g>
<polygon points="683.80,423.20 685.13,425.49 687.78,425.50 686.47,427.80 687.78,430.10 685.13,430.11 683.80,432.40 682.47,430.11 679.82,430.10 681.13,427.80 679.82,425.50 682.47,425.49" fill="#0c0cc4"/>
<polygon points="694.00,425.20 695.33,427.49 697.98,427.50 696.67,429.80 697.98,432.10 695.33,432.11 694.00,434.40 692.67,432.11 690.02,432.10 691.33,429.80 690.02,427.50 692.67,427.49" fill="#0c0cc4"/>
<circle cx="633.2" cy="461.3" r="3.3" fill="#06068c"/>
<rect x="628.4" y="456.9" width="9.4" height="8.8" fill="none" stroke="#e0101c" stroke-width="1.3"/>
<path d="M628.5,457.3 L581.3,419.1" stroke="#f01818" stroke-width="1.4" stroke-dasharray="5,3" fill="none"/>
<polygon points="576.2,415.0 583.3,416.6 579.2,421.6" fill="#f01818"/>
<path d="M687.0,424.5 L710.9,405.1" stroke="#f01818" stroke-width="1.4" stroke-dasharray="5,3" fill="none"/>
<polygon points="716.0,401.0 713.0,407.6 708.9,402.6" fill="#f01818"/>
<path d="M684.5,432.0 L688.2,453.1" stroke="#f01818" stroke-width="1.4" stroke-dasharray="5,3" fill="none"/>
<polygon points="689.3,459.5 685.0,453.6 691.3,452.5" fill="#f01818"/>
<path d="M696.5,433.5 L708.9,453.9" stroke="#f01818" stroke-width="1.4" stroke-dasharray="5,3" fill="none"/>
<polygon points="712.3,459.5 706.2,455.6 711.7,452.3" fill="#f01818"/>
<path d="M538.3,300.0 L538.3,496.0 L732.3,496.0" fill="none" stroke="#444444" stroke-width="1.0"/>
<path d="M538.3,491.3 h3 M538.3,496.0 v-3 M538.3,478.1 h2 M552.9,496.0 v-2 M538.3,470.3 h2 M561.4,496.0 v-2 M538.3,464.8 h2 M567.5,496.0 v-2 M538.3,460.5 h2 M572.2,496.0 v-2 M538.3,457.1 h2 M576.0,496.0 v-2 M538.3,454.1 h2 M579.3,496.0 v-2 M538.3,451.6 h2 M582.1,496.0 v-2 M538.3,449.3 h2 M584.6,496.0 v-2 M538.3,447.3 h3 M586.8,496.0 v-3 M538.3,434.1 h2 M601.4,496.0 v-2 M538.3,426.3 h2 M609.9,496.0 v-2 M538.3,420.8 h2 M616.0,496.0 v-2 M538.3,416.5 h2 M620.7,496.0 v-2 M538.3,413.1 h2 M624.5,496.0 v-2 M538.3,410.1 h2 M627.8,496.0 v-2 M538.3,407.6 h2 M630.6,496.0 v-2 M538.3,405.3 h2 M633.1,496.0 v-2 M538.3,403.3 h3 M635.3,496.0 v-3 M538.3,390.1 h2 M649.9,496.0 v-2 M538.3,382.3 h2 M658.4,496.0 v-2 M538.3,376.8 h2 M664.5,496.0 v-2 M538.3,372.5 h2 M669.2,496.0 v-2 M538.3,369.1 h2 M673.0,496.0 v-2 M538.3,366.1 h2 M676.3,496.0 v-2 M538.3,363.6 h2 M679.1,496.0 v-2 M538.3,361.3 h2 M681.6,496.0 v-2 M538.3,359.3 h3 M683.8,496.0 v-3 M538.3,346.1 h2 M698.4,496.0 v-2 M538.3,338.3 h2 M706.9,496.0 v-2 M538.3,332.8 h2 M713.0,496.0 v-2 M538.3,328.5 h2 M717.7,496.0 v-2 M538.3,325.1 h2 M721.5,496.0 v-2 M538.3,322.1 h2 M724.8,496.0 v-2 M538.3,319.6 h2 M727.6,496.0 v-2 M538.3,317.3 h2 M730.1,496.0 v-2 M538.3,315.3 h3 M732.3,496.0 v-3" fill="none" stroke="#444444" stroke-width="0.7"/>
<text transform="translate(533.6,324.5) scale(1,1.14)" font-size="14.4" fill="#262626" text-anchor="end">10<tspan dy="-6.2" font-size="11.4">2</tspan></text>
<text transform="translate(533.6,412.5) scale(1,1.14)" font-size="14.4" fill="#262626" text-anchor="end">10<tspan dy="-6.2" font-size="11.4">0</tspan></text>
<text transform="translate(533.6,500.5) scale(1,1.14)" font-size="14.4" fill="#262626" text-anchor="end">10<tspan dy="-6.2" font-size="11.4">-2</tspan></text>
<text transform="translate(538.3,520.6) scale(1,1.14)" font-size="14.4" fill="#262626" text-anchor="middle">10<tspan dy="-6.2" font-size="11.4">-2</tspan></text>
<text transform="translate(586.8,520.6) scale(1,1.14)" font-size="14.4" fill="#262626" text-anchor="middle">10<tspan dy="-6.2" font-size="11.4">-1</tspan></text>
<text transform="translate(635.3,520.6) scale(1,1.14)" font-size="14.4" fill="#262626" text-anchor="middle">10<tspan dy="-6.2" font-size="11.4">0</tspan></text>
<text transform="translate(683.8,520.6) scale(1,1.14)" font-size="14.4" fill="#262626" text-anchor="middle">10<tspan dy="-6.2" font-size="11.4">1</tspan></text>
<text transform="translate(732.3,520.6) scale(1,1.14)" font-size="14.4" fill="#262626" text-anchor="middle">10<tspan dy="-6.2" font-size="11.4">2</tspan></text>
<circle cx="553.1" cy="312.9" r="6.9" fill="#0a33ff"/>
<polygon points="553.10,323.00 554.90,326.09 558.47,326.10 556.70,329.20 558.47,332.30 554.90,332.31 553.10,335.40 551.30,332.31 547.73,332.30 549.50,329.20 547.73,326.10 551.30,326.09" fill="#0000d0"/>
<rect x="547.7" y="339.8" width="11" height="10.8" fill="#0000a0"/>
<text x="564" y="318.3" font-size="15.2" fill="#1c1c1c" font-weight="normal" text-anchor="start" >Reported</text>
<text x="564" y="334.3" font-size="15.3" fill="#1c1c1c" font-weight="normal" text-anchor="start" >Optimized</text>
<text x="564" y="350.6" font-size="15.3" fill="#1c1c1c" font-weight="normal" text-anchor="start" >Commercial</text>
<text transform="translate(559,371.2) rotate(90)" font-size="16.45" fill="#1c7ed6">Commercial</text>
<text transform="translate(723.6,367) rotate(90)" font-size="14.4" fill="#f01818">Reported</text>
<text x="671" y="473.6" font-size="14.4" fill="#f01818" font-weight="normal" text-anchor="start" >Optimized</text>
<text transform="translate(775.2,337) rotate(90)" font-size="19.05" fill="#1c7ed6">Maximum CPF</text>
<text transform="translate(476.6,398.6) rotate(-90)" font-size="19.5" fill="#1c7ed6" text-anchor="middle">Salt permeability</text>
<text transform="translate(500.4,443) rotate(-90) scale(1.14,1)" font-size="14.8" fill="#3a3a3a"><tspan x="0.0" y="0" font-style="italic">B</tspan><tspan x="12.89" y="0">(</tspan><tspan x="17.46" y="0">L</tspan><tspan x="26.4" y="0">m</tspan><tspan x="37.37" y="-5.5" font-size="10.4">−2</tspan><tspan x="50.88" y="0">h</tspan><tspan x="58.77" y="-5.5" font-size="10.4">−1</tspan><tspan x="72.46" y="0">)</tspan></text>
<text transform="translate(566.4,537.1) scale(1.16,1)" font-size="15.6" fill="#3a3a3a"><tspan x="0.0" y="0" font-style="italic">L</tspan><tspan x="8.28" y="3.1" font-size="10.9">p</tspan><tspan x="16.47" y="0">(</tspan><tspan x="21.55" y="0">L</tspan><tspan x="32.07" y="0">m</tspan><tspan x="43.02" y="-5.8" font-size="10.9">−2</tspan><tspan x="58.02" y="0">h</tspan><tspan x="66.64" y="-5.8" font-size="10.9">−1</tspan><tspan x="81.21" y="0">bar</tspan><tspan x="101.12" y="-5.8" font-size="10.9">−1</tspan><tspan x="113.45" y="0">)</tspan></text>
<text x="644" y="558.8" font-size="18.2" fill="#1c7ed6" font-weight="normal" text-anchor="middle" >Water permeability</text>
<defs><linearGradient id="gJet" x1="0" y1="1" x2="0" y2="0">
<stop offset="0" stop-color="#00008f"/><stop offset="0.125" stop-color="#0000ff"/><stop offset="0.375" stop-color="#00ffff"/><stop offset="0.625" stop-color="#ffff00"/><stop offset="0.875" stop-color="#ff0000"/><stop offset="1" stop-color="#800000"/></linearGradient></defs>
<rect x="746.8" y="299.6" width="9.7" height="196.2" fill="url(#gJet)"/>
<path d="M756.5,365.2 h-2.2 M756.5,430.6 h-2.2" stroke="#262626" stroke-width="0.6"/>
<text x="760.3" y="306.3" font-size="15.2" fill="#262626" font-weight="normal" text-anchor="start" >4</text>
<text x="760.3" y="371.2" font-size="15.2" fill="#262626" font-weight="normal" text-anchor="start" >3</text>
<text x="760.3" y="436.4" font-size="15.2" fill="#262626" font-weight="normal" text-anchor="start" >2</text>
<text x="760.3" y="501.3" font-size="15.2" fill="#262626" font-weight="normal" text-anchor="start" >1</text>
<text x="142.4" y="7.4" font-size="18.74"><tspan fill="#c00000" font-weight="bold">System design</tspan><tspan fill="#1c7ed6"> (Two-stage high permeability seawater RO membrane system)</tspan></text>
</svg>
</body></html>
